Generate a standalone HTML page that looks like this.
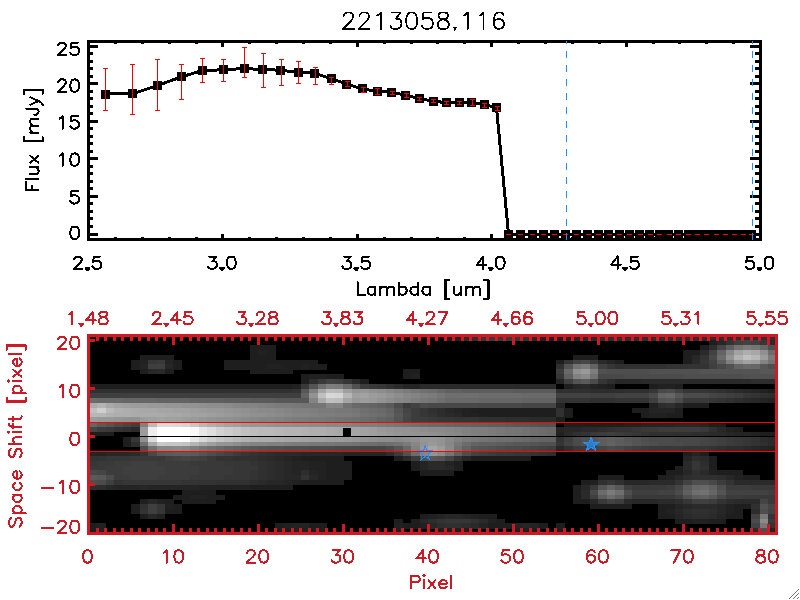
<!DOCTYPE html><html><head><meta charset="utf-8"><title>plot</title>
<style>html,body{margin:0;padding:0;background:#fff;overflow:hidden;font-family:"Liberation Sans",sans-serif}svg{display:block}</style></head><body>
<svg width="800" height="600" viewBox="0 0 800 600" shape-rendering="crispEdges">
<rect width="800" height="600" fill="#fff"/>
<g shape-rendering="crispEdges">
</g>
<polyline fill="none" stroke="#000" stroke-width="3" stroke-linejoin="round" points="105.5,94.0 132.5,93.8 157.5,85.5 181.3,76.8 202.8,70.5 223.3,69.8 244.0,68.5 262.5,69.5 280.0,70.2 298.3,72.2 314.5,73.3 331.7,78.8 346.7,84.0 362.5,89.0 377.5,91.3 391.5,92.3 405.7,95.2 419.5,98.5 433.5,101.2 446.5,102.7 459.5,102.7 471.7,102.3 484.5,104.7 496.5,107.7 508.5,234.0 520.5,234.0 532.0,234.0 543.4,234.0 554.3,234.0 565.3,234.0 576.4,234.0 587.5,234.0 598.2,234.0 608.7,234.0 619.2,234.0 629.4,234.0 639.9,234.0 649.5,234.0 659.1,234.0 668.8,234.0 678.4,234.0 688.0,234.0 697.3,234.0 706.4,234.0 715.7,234.0 724.8,234.0 733.9,234.0 742.6,234.0 751.4,234.0"/>
<g shape-rendering="crispEdges">
<path d="M101 90h9v9h-9zM128 89h9v9h-9zM153 81h9v9h-9zM177 72h9v9h-9zM198 66h9v9h-9zM219 65h9v9h-9zM240 64h9v9h-9zM258 65h9v9h-9zM276 66h9v9h-9zM294 68h9v9h-9zM310 69h9v9h-9zM327 74h9v9h-9zM342 80h9v9h-9zM358 84h9v9h-9zM373 87h9v9h-9zM387 88h9v9h-9zM401 91h9v9h-9zM415 94h9v9h-9zM429 97h9v9h-9zM442 98h9v9h-9zM455 98h9v9h-9zM467 98h9v9h-9zM480 100h9v9h-9zM492 103h9v9h-9zM504 230h9v9h-9zM516 230h9v9h-9zM528 230h9v9h-9zM539 230h9v9h-9zM550 230h9v9h-9zM561 230h9v9h-9zM572 230h9v9h-9zM583 230h9v9h-9zM594 230h9v9h-9zM604 230h9v9h-9zM615 230h9v9h-9zM625 230h9v9h-9zM635 230h9v9h-9zM645 230h9v9h-9zM655 230h9v9h-9zM664 230h9v9h-9zM674 230h9v9h-9zM684 230h9v9h-9zM693 230h9v9h-9zM702 230h9v9h-9zM711 230h9v9h-9zM720 230h9v9h-9zM729 230h9v9h-9zM738 230h9v9h-9zM747 230h9v9h-9z" fill="#000"/>
<rect x="88.5" y="41.5" width="672.0" height="198.0" fill="none" stroke="#000" stroke-width="3"/>
<path d="M88.5 41.5v5.5M88.5 239.5v-5.5M115.4 41.5v2.5M115.4 239.5v-2.5M142.3 41.5v2.5M142.3 239.5v-2.5M169.1 41.5v2.5M169.1 239.5v-2.5M196.0 41.5v2.5M196.0 239.5v-2.5M222.9 41.5v5.5M222.9 239.5v-5.5M249.8 41.5v2.5M249.8 239.5v-2.5M276.7 41.5v2.5M276.7 239.5v-2.5M303.5 41.5v2.5M303.5 239.5v-2.5M330.4 41.5v2.5M330.4 239.5v-2.5M357.3 41.5v5.5M357.3 239.5v-5.5M384.2 41.5v2.5M384.2 239.5v-2.5M411.1 41.5v2.5M411.1 239.5v-2.5M437.9 41.5v2.5M437.9 239.5v-2.5M464.8 41.5v2.5M464.8 239.5v-2.5M491.7 41.5v5.5M491.7 239.5v-5.5M518.6 41.5v2.5M518.6 239.5v-2.5M545.5 41.5v2.5M545.5 239.5v-2.5M572.3 41.5v2.5M572.3 239.5v-2.5M599.2 41.5v2.5M599.2 239.5v-2.5M626.1 41.5v5.5M626.1 239.5v-5.5M653.0 41.5v2.5M653.0 239.5v-2.5M679.9 41.5v2.5M679.9 239.5v-2.5M706.7 41.5v2.5M706.7 239.5v-2.5M733.6 41.5v2.5M733.6 239.5v-2.5M760.5 41.5v5.5M760.5 239.5v-5.5M88.5 234.5h9.5M760.5 234.5h-10.5M88.5 226.5h4.5M760.5 226.5h-5.5M88.5 218.5h4.5M760.5 218.5h-5.5M88.5 211.5h4.5M760.5 211.5h-5.5M88.5 203.5h4.5M760.5 203.5h-5.5M88.5 196.5h9.5M760.5 196.5h-10.5M88.5 188.5h4.5M760.5 188.5h-5.5M88.5 181.5h4.5M760.5 181.5h-5.5M88.5 173.5h4.5M760.5 173.5h-5.5M88.5 166.5h4.5M760.5 166.5h-5.5M88.5 158.5h9.5M760.5 158.5h-10.5M88.5 151.5h4.5M760.5 151.5h-5.5M88.5 143.5h4.5M760.5 143.5h-5.5M88.5 136.5h4.5M760.5 136.5h-5.5M88.5 128.5h4.5M760.5 128.5h-5.5M88.5 121.5h9.5M760.5 121.5h-10.5M88.5 113.5h4.5M760.5 113.5h-5.5M88.5 106.5h4.5M760.5 106.5h-5.5M88.5 98.5h4.5M760.5 98.5h-5.5M88.5 91.5h4.5M760.5 91.5h-5.5M88.5 83.5h9.5M760.5 83.5h-10.5M88.5 76.5h4.5M760.5 76.5h-5.5M88.5 68.5h4.5M760.5 68.5h-5.5M88.5 61.5h4.5M760.5 61.5h-5.5M88.5 53.5h4.5M760.5 53.5h-5.5M88.5 46.5h9.5M760.5 46.5h-10.5" fill="none" stroke="#000" stroke-width="3"/>
<path d="M105.5 68.5V110.5M103.0 68.5h5M103.0 110.5h5M132.5 64.5V114.5M130.0 64.5h5M130.0 114.5h5M157.5 59.5V110.5M155.0 59.5h5M155.0 110.5h5M181.5 64.5V99.5M179.0 64.5h5M179.0 99.5h5M202.5 58.5V82.5M200.0 58.5h5M200.0 82.5h5M223.5 59.5V81.5M221.0 59.5h5M221.0 81.5h5M244.5 47.5V77.5M242.0 47.5h5M242.0 77.5h5M263.5 53.5V87.5M261.0 53.5h5M261.0 87.5h5M281.5 59.5V85.5M279.0 59.5h5M279.0 85.5h5M298.5 61.5V83.5M296.0 61.5h5M296.0 83.5h5M315.5 67.5V84.5M313.0 67.5h5M313.0 84.5h5M331.5 77.5V84.5M329.0 77.5h5M329.0 84.5h5M347.5 81.5V86.5M345.0 81.5h5M345.0 86.5h5M363.5 87.5V92.5M361.0 87.5h5M361.0 92.5h5M377.5 88.5V94.5M375.0 88.5h5M375.0 94.5h5M392.5 91.5V94.5M390.0 91.5h5M390.0 94.5h5M406.5 93.5V97.5M404.0 93.5h5M404.0 97.5h5M419.5 97.5V100.5M417.0 97.5h5M417.0 100.5h5M433.5 99.5V102.5M431.0 99.5h5M431.0 102.5h5M446.5 101.5V104.5M444.0 101.5h5M444.0 104.5h5M459.5 101.5V104.5M457.0 101.5h5M457.0 104.5h5M472.5 99.5V105.5M470.0 99.5h5M470.0 105.5h5M484.5 103.5V107.5M482.0 103.5h5M482.0 107.5h5M497.5 106.5V110.5M495.0 106.5h5M495.0 110.5h5M505.5 234.5h5M517.5 234.5h5M529.5 234.5h5M540.5 234.5h5M551.5 234.5h5M562.5 234.5h5M573.5 234.5h5M585.5 234.5h5M595.5 234.5h5M606.5 234.5h5M616.5 234.5h5M626.5 234.5h5M637.5 234.5h5M647.5 234.5h5M656.5 234.5h5M666.5 234.5h5M675.5 234.5h5M685.5 234.5h5M694.5 234.5h5M703.5 234.5h5M713.5 234.5h5M722.5 234.5h5M731.5 234.5h5M740.5 234.5h5M748.5 234.5h5" fill="none" stroke="#f00" stroke-width="1"/>
<path d="M566.5 41V44M566.5 51V58M566.5 65V72M566.5 79V86M566.5 93V100M566.5 107V114M566.5 121V128M566.5 135V142M566.5 149V156M566.5 163V170M566.5 177V184M566.5 191V198M566.5 205V212M566.5 219V226M566.5 233V240" stroke="#1e90ff" stroke-width="1" fill="none"/>
<path d="M752.5 41V44M752.5 51V58M752.5 65V72M752.5 79V86M752.5 93V100M752.5 107V114M752.5 121V128M752.5 135V142M752.5 149V156M752.5 163V170M752.5 177V184M752.5 191V198M752.5 205V212M752.5 219V226M752.5 233V240" stroke="#1e90ff" stroke-width="1" fill="none"/>
</g>
<path d="M343.71 16.36L343.71 15.57L344.50 13.99L345.29 13.20L346.87 12.41L350.03 12.41L351.61 13.20L352.40 13.99L353.19 15.57L353.19 17.15L352.40 18.73L350.82 21.10L342.92 29.00L353.98 29.00M359.51 16.36L359.51 15.57L360.30 13.99L361.09 13.20L362.67 12.41L365.83 12.41L367.41 13.20L368.20 13.99L368.99 15.57L368.99 17.15L368.20 18.73L366.62 21.10L358.72 29.00L369.78 29.00M376.89 15.57L378.47 14.78L380.84 12.41L380.84 29.00M391.90 12.41L400.59 12.41L395.85 18.73L398.22 18.73L399.80 19.52L400.59 20.31L401.38 22.68L401.38 24.26L400.59 26.63L399.01 28.21L396.64 29.00L394.27 29.00L391.90 28.21L391.11 27.42L390.32 25.84M410.86 12.41L408.49 13.20L406.91 15.57L406.12 19.52L406.12 21.89L406.91 25.84L408.49 28.21L410.86 29.00L412.44 29.00L414.81 28.21L416.39 25.84L417.18 21.89L417.18 19.52L416.39 15.57L414.81 13.20L412.44 12.41ZM431.40 12.41L423.50 12.41L422.71 19.52L423.50 18.73L425.87 17.94L428.24 17.94L430.61 18.73L432.19 20.31L432.98 22.68L432.98 24.26L432.19 26.63L430.61 28.21L428.24 29.00L425.87 29.00L423.50 28.21L422.71 27.42L421.92 25.84M441.67 12.41L439.30 13.20L438.51 14.78L438.51 16.36L439.30 17.94L440.88 18.73L444.04 19.52L446.41 20.31L447.99 21.89L448.78 23.47L448.78 25.84L447.99 27.42L447.20 28.21L444.83 29.00L441.67 29.00L439.30 28.21L438.51 27.42L437.72 25.84L437.72 23.47L438.51 21.89L440.09 20.31L442.46 19.52L445.62 18.73L447.20 17.94L447.99 16.36L447.99 14.78L447.20 13.20L444.83 12.41ZM454.31 27.74L455.89 27.74L455.10 28.84ZM455.10 28.84L454.47 29.95M463.79 15.57L465.37 14.78L467.74 12.41L467.74 29.00M479.59 15.57L481.17 14.78L483.54 12.41L483.54 29.00M503.29 14.78L502.50 13.20L500.13 12.41L498.55 12.41L496.18 13.20L494.60 15.57L493.81 19.52L493.81 23.47L494.60 26.63L496.18 28.21L498.55 29.00L499.34 29.00L501.71 28.21L503.29 26.63L504.08 24.26L504.08 23.47L503.29 21.10L501.71 19.52L499.34 18.73L498.55 18.73L496.18 19.52L494.60 21.10L493.81 23.47" fill="none" stroke="#000" stroke-width="1.7" stroke-linecap="round" stroke-linejoin="round"/>
<path d="M74.27 259.46L74.27 258.87L74.90 257.69L75.53 257.10L76.79 256.51L79.31 256.51L80.57 257.10L81.20 257.69L81.83 258.87L81.83 260.05L81.20 261.23L79.94 263.00L73.64 268.90L82.46 268.90M85.61 268.19L89.39 268.19L87.50 270.43ZM86.87 268.72L88.13 268.72M100.10 256.51L93.80 256.51L93.17 261.82L93.80 261.23L95.69 260.64L97.58 260.64L99.47 261.23L100.73 262.41L101.36 264.18L101.36 265.36L100.73 267.13L99.47 268.31L97.58 268.90L95.69 268.90L93.80 268.31L93.17 267.72L92.54 266.54M209.30 256.51L216.23 256.51L212.45 261.23L214.34 261.23L215.60 261.82L216.23 262.41L216.86 264.18L216.86 265.36L216.23 267.13L214.97 268.31L213.08 268.90L211.19 268.90L209.30 268.31L208.67 267.72L208.04 266.54M220.01 268.19L223.79 268.19L221.90 270.43ZM221.27 268.72L222.53 268.72M230.72 256.51L228.83 257.10L227.57 258.87L226.94 261.82L226.94 263.59L227.57 266.54L228.83 268.31L230.72 268.90L231.98 268.90L233.87 268.31L235.13 266.54L235.76 263.59L235.76 261.82L235.13 258.87L233.87 257.10L231.98 256.51ZM343.70 256.51L350.63 256.51L346.85 261.23L348.74 261.23L350.00 261.82L350.63 262.41L351.26 264.18L351.26 265.36L350.63 267.13L349.37 268.31L347.48 268.90L345.59 268.90L343.70 268.31L343.07 267.72L342.44 266.54M354.41 268.19L358.19 268.19L356.30 270.43ZM355.67 268.72L356.93 268.72M368.90 256.51L362.60 256.51L361.97 261.82L362.60 261.23L364.49 260.64L366.38 260.64L368.27 261.23L369.53 262.41L370.16 264.18L370.16 265.36L369.53 267.13L368.27 268.31L366.38 268.90L364.49 268.90L362.60 268.31L361.97 267.72L361.34 266.54M483.14 256.51L476.84 264.77L486.29 264.77M483.14 256.51L483.14 268.90M488.81 268.19L492.59 268.19L490.70 270.43ZM490.07 268.72L491.33 268.72M499.52 256.51L497.63 257.10L496.37 258.87L495.74 261.82L495.74 263.59L496.37 266.54L497.63 268.31L499.52 268.90L500.78 268.90L502.67 268.31L503.93 266.54L504.56 263.59L504.56 261.82L503.93 258.87L502.67 257.10L500.78 256.51ZM617.54 256.51L611.24 264.77L620.69 264.77M617.54 256.51L617.54 268.90M623.21 268.19L626.99 268.19L625.10 270.43ZM624.47 268.72L625.73 268.72M637.70 256.51L631.40 256.51L630.77 261.82L631.40 261.23L633.29 260.64L635.18 260.64L637.07 261.23L638.33 262.41L638.96 264.18L638.96 265.36L638.33 267.13L637.07 268.31L635.18 268.90L633.29 268.90L631.40 268.31L630.77 267.72L630.14 266.54M753.20 256.51L746.90 256.51L746.27 261.82L746.90 261.23L748.79 260.64L750.68 260.64L752.57 261.23L753.83 262.41L754.46 264.18L754.46 265.36L753.83 267.13L752.57 268.31L750.68 268.90L748.79 268.90L746.90 268.31L746.27 267.72L745.64 266.54M757.61 268.19L761.39 268.19L759.50 270.43ZM758.87 268.72L760.13 268.72M768.32 256.51L766.43 257.10L765.17 258.87L764.54 261.82L764.54 263.59L765.17 266.54L766.43 268.31L768.32 268.90L769.58 268.90L771.47 268.31L772.73 266.54L773.36 263.59L773.36 261.82L772.73 258.87L771.47 257.10L769.58 256.51ZM58.32 45.56L58.32 44.97L58.95 43.79L59.58 43.20L60.84 42.61L63.36 42.61L64.62 43.20L65.25 43.79L65.88 44.97L65.88 46.15L65.25 47.33L63.99 49.10L57.69 55.00L66.51 55.00M77.85 42.61L71.55 42.61L70.92 47.92L71.55 47.33L73.44 46.74L75.33 46.74L77.22 47.33L78.48 48.51L79.11 50.28L79.11 51.46L78.48 53.23L77.22 54.41L75.33 55.00L73.44 55.00L71.55 54.41L70.92 53.82L70.29 52.64M58.32 82.36L58.32 81.77L58.95 80.59L59.58 80.00L60.84 79.41L63.36 79.41L64.62 80.00L65.25 80.59L65.88 81.77L65.88 82.95L65.25 84.13L63.99 85.90L57.69 91.80L66.51 91.80M74.07 79.41L72.18 80.00L70.92 81.77L70.29 84.72L70.29 86.49L70.92 89.44L72.18 91.21L74.07 91.80L75.33 91.80L77.22 91.21L78.48 89.44L79.11 86.49L79.11 84.72L78.48 81.77L77.22 80.00L75.33 79.41ZM59.58 118.57L60.84 117.98L62.73 116.21L62.73 128.60M77.85 116.21L71.55 116.21L70.92 121.52L71.55 120.93L73.44 120.34L75.33 120.34L77.22 120.93L78.48 122.11L79.11 123.88L79.11 125.06L78.48 126.83L77.22 128.01L75.33 128.60L73.44 128.60L71.55 128.01L70.92 127.42L70.29 126.24M59.58 155.77L60.84 155.18L62.73 153.41L62.73 165.80M74.07 153.41L72.18 154.00L70.92 155.77L70.29 158.72L70.29 160.49L70.92 163.44L72.18 165.21L74.07 165.80L75.33 165.80L77.22 165.21L78.48 163.44L79.11 160.49L79.11 158.72L78.48 155.77L77.22 154.00L75.33 153.41ZM77.85 191.11L71.55 191.11L70.92 196.42L71.55 195.83L73.44 195.24L75.33 195.24L77.22 195.83L78.48 197.01L79.11 198.78L79.11 199.96L78.48 201.73L77.22 202.91L75.33 203.50L73.44 203.50L71.55 202.91L70.92 202.32L70.29 201.14M74.07 226.61L72.18 227.20L70.92 228.97L70.29 231.92L70.29 233.69L70.92 236.64L72.18 238.41L74.07 239.00L75.33 239.00L77.22 238.41L78.48 236.64L79.11 233.69L79.11 231.92L78.48 228.97L77.22 227.20L75.33 226.61ZM357.52 282.41L357.52 294.80M357.52 294.80L365.08 294.80M375.16 286.54L375.16 294.80M375.16 288.31L373.90 287.13L372.64 286.54L370.75 286.54L369.49 287.13L368.23 288.31L367.60 290.08L367.60 291.26L368.23 293.03L369.49 294.21L370.75 294.80L372.64 294.80L373.90 294.21L375.16 293.03M380.20 286.54L380.20 294.80M380.20 288.90L382.09 287.13L383.35 286.54L385.24 286.54L386.50 287.13L387.13 288.90L387.13 294.80M387.13 288.90L389.02 287.13L390.28 286.54L392.17 286.54L393.43 287.13L394.06 288.90L394.06 294.80M399.10 282.41L399.10 294.80M399.10 288.31L400.36 287.13L401.62 286.54L403.51 286.54L404.77 287.13L406.03 288.31L406.66 290.08L406.66 291.26L406.03 293.03L404.77 294.21L403.51 294.80L401.62 294.80L400.36 294.21L399.10 293.03M418.00 282.41L418.00 294.80M418.00 288.31L416.74 287.13L415.48 286.54L413.59 286.54L412.33 287.13L411.07 288.31L410.44 290.08L410.44 291.26L411.07 293.03L412.33 294.21L413.59 294.80L415.48 294.80L416.74 294.21L418.00 293.03M429.97 286.54L429.97 294.80M429.97 288.31L428.71 287.13L427.45 286.54L425.56 286.54L424.30 287.13L423.04 288.31L422.41 290.08L422.41 291.26L423.04 293.03L424.30 294.21L425.56 294.80L427.45 294.80L428.71 294.21L429.97 293.03M445.09 280.05L445.09 298.93M445.72 280.05L445.72 298.93M445.09 280.05L449.50 280.05M445.09 298.93L449.50 298.93M453.91 286.54L453.91 292.44L454.54 294.21L455.80 294.80L457.69 294.80L458.95 294.21L460.84 292.44M460.84 286.54L460.84 294.80M465.88 286.54L465.88 294.80M465.88 288.90L467.77 287.13L469.03 286.54L470.92 286.54L472.18 287.13L472.81 288.90L472.81 294.80M472.81 288.90L474.70 287.13L475.96 286.54L477.85 286.54L479.11 287.13L479.74 288.90L479.74 294.80M487.93 280.05L487.93 298.93M488.56 280.05L488.56 298.93M484.15 280.05L488.56 280.05M484.15 298.93L488.56 298.93M26.11 190.48L38.50 190.48M26.11 190.48L26.11 182.29M32.01 190.48L32.01 185.44M26.11 179.14L38.50 179.14M30.24 174.10L36.14 174.10L37.91 173.47L38.50 172.21L38.50 170.32L37.91 169.06L36.14 167.17M30.24 167.17L38.50 167.17M30.24 162.76L38.50 155.83M30.24 155.83L38.50 162.76M23.75 141.34L42.63 141.34M23.75 140.71L42.63 140.71M23.75 141.34L23.75 136.93M42.63 141.34L42.63 136.93M30.24 132.52L38.50 132.52M32.60 132.52L30.83 130.63L30.24 129.37L30.24 127.48L30.83 126.22L32.60 125.59L38.50 125.59M32.60 125.59L30.83 123.70L30.24 122.44L30.24 120.55L30.83 119.29L32.60 118.66L38.50 118.66M26.11 108.58L35.55 108.58L37.32 109.21L37.91 109.84L38.50 111.10L38.50 112.36L37.91 113.62L37.32 114.25L35.55 114.88L34.37 114.88M30.24 104.80L38.50 101.02M30.24 97.24L38.50 101.02L40.86 102.28L42.04 103.54L42.63 104.80L42.63 105.43M23.75 90.31L42.63 90.31M23.75 89.68L42.63 89.68M23.75 94.09L23.75 89.68M42.63 94.09L42.63 89.68" fill="none" stroke="#000" stroke-width="2" stroke-linecap="round" stroke-linejoin="round"/>
<g shape-rendering="crispEdges">
<rect x="88.5" y="335.5" width="688.0" height="197.5" fill="#000"/>
<rect x="445.2" y="335.5" width="8.8" height="5.1" fill="#1e1e1e"/>
<rect x="453.7" y="335.5" width="8.8" height="5.1" fill="#212121"/>
<rect x="462.2" y="335.5" width="8.8" height="5.1" fill="#2a2a2a"/>
<rect x="470.7" y="335.5" width="8.8" height="5.1" fill="#303030"/>
<rect x="479.2" y="335.5" width="8.8" height="5.1" fill="#363636"/>
<rect x="487.7" y="335.5" width="25.8" height="5.1" fill="#393939"/>
<rect x="513.2" y="335.5" width="8.8" height="5.1" fill="#363636"/>
<rect x="521.7" y="335.5" width="8.8" height="5.1" fill="#303030"/>
<rect x="530.2" y="335.5" width="8.8" height="5.1" fill="#272727"/>
<rect x="538.7" y="335.5" width="8.8" height="5.1" fill="#212121"/>
<rect x="547.2" y="335.5" width="17.3" height="5.1" fill="#1e1e1e"/>
<rect x="564.2" y="335.5" width="8.8" height="5.1" fill="#212121"/>
<rect x="572.6" y="335.5" width="8.8" height="5.1" fill="#242424"/>
<rect x="581.1" y="335.5" width="8.8" height="5.1" fill="#272727"/>
<rect x="589.6" y="335.5" width="8.8" height="5.1" fill="#2a2a2a"/>
<rect x="598.1" y="335.5" width="161.7" height="5.1" fill="#2d2d2d"/>
<rect x="759.5" y="335.5" width="17.3" height="5.1" fill="#303030"/>
<rect x="708.5" y="340.3" width="8.8" height="5.1" fill="#1e1e1e"/>
<rect x="717.0" y="340.3" width="8.8" height="5.1" fill="#272727"/>
<rect x="725.5" y="340.3" width="8.8" height="5.1" fill="#333333"/>
<rect x="734.0" y="340.3" width="8.8" height="5.1" fill="#3f3f3f"/>
<rect x="742.5" y="340.3" width="8.8" height="5.1" fill="#424242"/>
<rect x="751.0" y="340.3" width="8.8" height="5.1" fill="#3f3f3f"/>
<rect x="759.5" y="340.3" width="8.8" height="5.1" fill="#363636"/>
<rect x="768.0" y="340.3" width="8.8" height="5.1" fill="#2a2a2a"/>
<rect x="249.9" y="345.1" width="25.8" height="5.1" fill="#1e1e1e"/>
<rect x="700.1" y="345.1" width="8.8" height="5.1" fill="#1e1e1e"/>
<rect x="708.5" y="345.1" width="8.8" height="5.1" fill="#2d2d2d"/>
<rect x="717.0" y="345.1" width="8.8" height="5.1" fill="#454545"/>
<rect x="725.5" y="345.1" width="8.8" height="5.1" fill="#5d5d5d"/>
<rect x="734.0" y="345.1" width="8.8" height="5.1" fill="#727272"/>
<rect x="742.5" y="345.1" width="8.8" height="5.1" fill="#7b7b7b"/>
<rect x="751.0" y="345.1" width="8.8" height="5.1" fill="#757575"/>
<rect x="759.5" y="345.1" width="8.8" height="5.1" fill="#666666"/>
<rect x="768.0" y="345.1" width="8.8" height="5.1" fill="#4e4e4e"/>
<rect x="249.9" y="350.0" width="8.8" height="5.1" fill="#1e1e1e"/>
<rect x="258.4" y="350.0" width="8.8" height="5.1" fill="#212121"/>
<rect x="266.9" y="350.0" width="8.8" height="5.1" fill="#1e1e1e"/>
<rect x="683.1" y="350.0" width="17.3" height="5.1" fill="#1e1e1e"/>
<rect x="700.1" y="350.0" width="8.8" height="5.1" fill="#2a2a2a"/>
<rect x="708.5" y="350.0" width="8.8" height="5.1" fill="#424242"/>
<rect x="717.0" y="350.0" width="8.8" height="5.1" fill="#636363"/>
<rect x="725.5" y="350.0" width="8.8" height="5.1" fill="#878787"/>
<rect x="734.0" y="350.0" width="8.8" height="5.1" fill="#a2a2a2"/>
<rect x="742.5" y="350.0" width="8.8" height="5.1" fill="#aeaeae"/>
<rect x="751.0" y="350.0" width="8.8" height="5.1" fill="#a8a8a8"/>
<rect x="759.5" y="350.0" width="8.8" height="5.1" fill="#909090"/>
<rect x="768.0" y="350.0" width="8.8" height="5.1" fill="#6c6c6c"/>
<rect x="139.5" y="354.8" width="34.3" height="5.1" fill="#1e1e1e"/>
<rect x="249.9" y="354.8" width="25.8" height="5.1" fill="#1e1e1e"/>
<rect x="572.6" y="354.8" width="25.8" height="5.1" fill="#1e1e1e"/>
<rect x="683.1" y="354.8" width="8.8" height="5.1" fill="#1e1e1e"/>
<rect x="691.6" y="354.8" width="8.8" height="5.1" fill="#272727"/>
<rect x="700.1" y="354.8" width="8.8" height="5.1" fill="#333333"/>
<rect x="708.5" y="354.8" width="8.8" height="5.1" fill="#484848"/>
<rect x="717.0" y="354.8" width="8.8" height="5.1" fill="#6c6c6c"/>
<rect x="725.5" y="354.8" width="8.8" height="5.1" fill="#939393"/>
<rect x="734.0" y="354.8" width="8.8" height="5.1" fill="#b1b1b1"/>
<rect x="742.5" y="354.8" width="8.8" height="5.1" fill="#c0c0c0"/>
<rect x="751.0" y="354.8" width="8.8" height="5.1" fill="#b7b7b7"/>
<rect x="759.5" y="354.8" width="8.8" height="5.1" fill="#9c9c9c"/>
<rect x="768.0" y="354.8" width="8.8" height="5.1" fill="#7b7b7b"/>
<rect x="131.0" y="359.6" width="8.8" height="5.1" fill="#1e1e1e"/>
<rect x="139.5" y="359.6" width="8.8" height="5.1" fill="#212121"/>
<rect x="148.0" y="359.6" width="8.8" height="5.1" fill="#363636"/>
<rect x="156.5" y="359.6" width="8.8" height="5.1" fill="#393939"/>
<rect x="164.9" y="359.6" width="8.8" height="5.1" fill="#242424"/>
<rect x="173.4" y="359.6" width="8.8" height="5.1" fill="#1e1e1e"/>
<rect x="224.4" y="359.6" width="93.7" height="5.1" fill="#1e1e1e"/>
<rect x="555.7" y="359.6" width="8.8" height="5.1" fill="#1e1e1e"/>
<rect x="564.2" y="359.6" width="8.8" height="5.1" fill="#333333"/>
<rect x="572.6" y="359.6" width="8.8" height="5.1" fill="#424242"/>
<rect x="581.1" y="359.6" width="8.8" height="5.1" fill="#484848"/>
<rect x="589.6" y="359.6" width="8.8" height="5.1" fill="#393939"/>
<rect x="598.1" y="359.6" width="8.8" height="5.1" fill="#2a2a2a"/>
<rect x="606.6" y="359.6" width="8.8" height="5.1" fill="#242424"/>
<rect x="615.1" y="359.6" width="8.8" height="5.1" fill="#1e1e1e"/>
<rect x="683.1" y="359.6" width="8.8" height="5.1" fill="#1e1e1e"/>
<rect x="691.6" y="359.6" width="8.8" height="5.1" fill="#2a2a2a"/>
<rect x="700.1" y="359.6" width="8.8" height="5.1" fill="#363636"/>
<rect x="708.5" y="359.6" width="8.8" height="5.1" fill="#424242"/>
<rect x="717.0" y="359.6" width="8.8" height="5.1" fill="#5d5d5d"/>
<rect x="725.5" y="359.6" width="8.8" height="5.1" fill="#7e7e7e"/>
<rect x="734.0" y="359.6" width="8.8" height="5.1" fill="#969696"/>
<rect x="742.5" y="359.6" width="8.8" height="5.1" fill="#a2a2a2"/>
<rect x="751.0" y="359.6" width="8.8" height="5.1" fill="#9c9c9c"/>
<rect x="759.5" y="359.6" width="8.8" height="5.1" fill="#848484"/>
<rect x="768.0" y="359.6" width="8.8" height="5.1" fill="#727272"/>
<rect x="131.0" y="364.4" width="8.8" height="5.1" fill="#1e1e1e"/>
<rect x="139.5" y="364.4" width="8.8" height="5.1" fill="#242424"/>
<rect x="148.0" y="364.4" width="17.3" height="5.1" fill="#3f3f3f"/>
<rect x="164.9" y="364.4" width="8.8" height="5.1" fill="#272727"/>
<rect x="173.4" y="364.4" width="8.8" height="5.1" fill="#1e1e1e"/>
<rect x="224.4" y="364.4" width="42.8" height="5.1" fill="#1e1e1e"/>
<rect x="266.9" y="364.4" width="17.3" height="5.1" fill="#212121"/>
<rect x="283.9" y="364.4" width="17.3" height="5.1" fill="#1e1e1e"/>
<rect x="300.8" y="364.4" width="8.8" height="5.1" fill="#212121"/>
<rect x="309.3" y="364.4" width="17.3" height="5.1" fill="#1e1e1e"/>
<rect x="555.7" y="364.4" width="8.8" height="5.1" fill="#303030"/>
<rect x="564.2" y="364.4" width="8.8" height="5.1" fill="#545454"/>
<rect x="572.6" y="364.4" width="8.8" height="5.1" fill="#727272"/>
<rect x="581.1" y="364.4" width="8.8" height="5.1" fill="#7b7b7b"/>
<rect x="589.6" y="364.4" width="8.8" height="5.1" fill="#636363"/>
<rect x="598.1" y="364.4" width="8.8" height="5.1" fill="#3f3f3f"/>
<rect x="606.6" y="364.4" width="8.8" height="5.1" fill="#363636"/>
<rect x="615.1" y="364.4" width="51.3" height="5.1" fill="#303030"/>
<rect x="666.1" y="364.4" width="42.8" height="5.1" fill="#333333"/>
<rect x="708.5" y="364.4" width="8.8" height="5.1" fill="#3f3f3f"/>
<rect x="717.0" y="364.4" width="8.8" height="5.1" fill="#484848"/>
<rect x="725.5" y="364.4" width="8.8" height="5.1" fill="#515151"/>
<rect x="734.0" y="364.4" width="8.8" height="5.1" fill="#636363"/>
<rect x="742.5" y="364.4" width="8.8" height="5.1" fill="#696969"/>
<rect x="751.0" y="364.4" width="8.8" height="5.1" fill="#666666"/>
<rect x="759.5" y="364.4" width="8.8" height="5.1" fill="#575757"/>
<rect x="768.0" y="364.4" width="8.8" height="5.1" fill="#4e4e4e"/>
<rect x="139.5" y="369.2" width="8.8" height="5.1" fill="#1e1e1e"/>
<rect x="148.0" y="369.2" width="8.8" height="5.1" fill="#272727"/>
<rect x="156.5" y="369.2" width="8.8" height="5.1" fill="#2a2a2a"/>
<rect x="164.9" y="369.2" width="8.8" height="5.1" fill="#1e1e1e"/>
<rect x="249.9" y="369.2" width="42.8" height="5.1" fill="#1e1e1e"/>
<rect x="402.8" y="369.2" width="17.3" height="5.1" fill="#1e1e1e"/>
<rect x="555.7" y="369.2" width="8.8" height="5.1" fill="#3c3c3c"/>
<rect x="564.2" y="369.2" width="8.8" height="5.1" fill="#696969"/>
<rect x="572.6" y="369.2" width="8.8" height="5.1" fill="#909090"/>
<rect x="581.1" y="369.2" width="8.8" height="5.1" fill="#999999"/>
<rect x="589.6" y="369.2" width="8.8" height="5.1" fill="#7e7e7e"/>
<rect x="598.1" y="369.2" width="8.8" height="5.1" fill="#515151"/>
<rect x="606.6" y="369.2" width="42.8" height="5.1" fill="#4e4e4e"/>
<rect x="649.1" y="369.2" width="51.3" height="5.1" fill="#515151"/>
<rect x="700.1" y="369.2" width="59.8" height="5.1" fill="#545454"/>
<rect x="759.5" y="369.2" width="17.3" height="5.1" fill="#575757"/>
<rect x="300.8" y="374.0" width="8.8" height="5.1" fill="#1e1e1e"/>
<rect x="309.3" y="374.0" width="17.3" height="5.1" fill="#212121"/>
<rect x="326.3" y="374.0" width="17.3" height="5.1" fill="#1e1e1e"/>
<rect x="402.8" y="374.0" width="8.8" height="5.1" fill="#1e1e1e"/>
<rect x="411.3" y="374.0" width="8.8" height="5.1" fill="#212121"/>
<rect x="555.7" y="374.0" width="8.8" height="5.1" fill="#363636"/>
<rect x="564.2" y="374.0" width="8.8" height="5.1" fill="#606060"/>
<rect x="572.6" y="374.0" width="8.8" height="5.1" fill="#818181"/>
<rect x="581.1" y="374.0" width="8.8" height="5.1" fill="#8a8a8a"/>
<rect x="589.6" y="374.0" width="8.8" height="5.1" fill="#727272"/>
<rect x="598.1" y="374.0" width="25.8" height="5.1" fill="#484848"/>
<rect x="623.6" y="374.0" width="59.8" height="5.1" fill="#4b4b4b"/>
<rect x="683.1" y="374.0" width="59.8" height="5.1" fill="#4e4e4e"/>
<rect x="742.5" y="374.0" width="34.3" height="5.1" fill="#515151"/>
<rect x="300.8" y="378.9" width="8.8" height="5.1" fill="#1e1e1e"/>
<rect x="309.3" y="378.9" width="8.8" height="5.1" fill="#2d2d2d"/>
<rect x="317.8" y="378.9" width="8.8" height="5.1" fill="#393939"/>
<rect x="326.3" y="378.9" width="8.8" height="5.1" fill="#424242"/>
<rect x="334.8" y="378.9" width="8.8" height="5.1" fill="#3f3f3f"/>
<rect x="343.3" y="378.9" width="8.8" height="5.1" fill="#363636"/>
<rect x="351.8" y="378.9" width="8.8" height="5.1" fill="#2a2a2a"/>
<rect x="360.3" y="378.9" width="8.8" height="5.1" fill="#1e1e1e"/>
<rect x="555.7" y="378.9" width="8.8" height="5.1" fill="#242424"/>
<rect x="564.2" y="378.9" width="8.8" height="5.1" fill="#3f3f3f"/>
<rect x="572.6" y="378.9" width="8.8" height="5.1" fill="#545454"/>
<rect x="581.1" y="378.9" width="8.8" height="5.1" fill="#5a5a5a"/>
<rect x="589.6" y="378.9" width="8.8" height="5.1" fill="#4b4b4b"/>
<rect x="598.1" y="378.9" width="8.8" height="5.1" fill="#363636"/>
<rect x="606.6" y="378.9" width="8.8" height="5.1" fill="#2d2d2d"/>
<rect x="615.1" y="378.9" width="25.8" height="5.1" fill="#272727"/>
<rect x="640.6" y="378.9" width="110.7" height="5.1" fill="#2a2a2a"/>
<rect x="751.0" y="378.9" width="25.8" height="5.1" fill="#2d2d2d"/>
<rect x="88.5" y="383.7" width="204.2" height="5.1" fill="#1e1e1e"/>
<rect x="292.4" y="383.7" width="8.8" height="5.1" fill="#212121"/>
<rect x="300.8" y="383.7" width="8.8" height="5.1" fill="#393939"/>
<rect x="309.3" y="383.7" width="8.8" height="5.1" fill="#545454"/>
<rect x="317.8" y="383.7" width="8.8" height="5.1" fill="#6f6f6f"/>
<rect x="326.3" y="383.7" width="8.8" height="5.1" fill="#7e7e7e"/>
<rect x="334.8" y="383.7" width="8.8" height="5.1" fill="#7b7b7b"/>
<rect x="343.3" y="383.7" width="8.8" height="5.1" fill="#696969"/>
<rect x="351.8" y="383.7" width="8.8" height="5.1" fill="#515151"/>
<rect x="360.3" y="383.7" width="8.8" height="5.1" fill="#3c3c3c"/>
<rect x="368.8" y="383.7" width="8.8" height="5.1" fill="#393939"/>
<rect x="377.3" y="383.7" width="8.8" height="5.1" fill="#363636"/>
<rect x="385.8" y="383.7" width="8.8" height="5.1" fill="#303030"/>
<rect x="394.3" y="383.7" width="8.8" height="5.1" fill="#2a2a2a"/>
<rect x="402.8" y="383.7" width="17.3" height="5.1" fill="#242424"/>
<rect x="419.8" y="383.7" width="136.2" height="5.1" fill="#2a2a2a"/>
<rect x="564.2" y="383.7" width="8.8" height="5.1" fill="#1e1e1e"/>
<rect x="572.6" y="383.7" width="8.8" height="5.1" fill="#272727"/>
<rect x="581.1" y="383.7" width="8.8" height="5.1" fill="#2a2a2a"/>
<rect x="589.6" y="383.7" width="8.8" height="5.1" fill="#242424"/>
<rect x="598.1" y="383.7" width="8.8" height="5.1" fill="#212121"/>
<rect x="606.6" y="383.7" width="8.8" height="5.1" fill="#1e1e1e"/>
<rect x="649.1" y="383.7" width="8.8" height="5.1" fill="#1e1e1e"/>
<rect x="657.6" y="383.7" width="17.3" height="5.1" fill="#212121"/>
<rect x="674.6" y="383.7" width="8.8" height="5.1" fill="#1e1e1e"/>
<rect x="88.5" y="388.5" width="204.2" height="5.1" fill="#303030"/>
<rect x="292.4" y="388.5" width="8.8" height="5.1" fill="#333333"/>
<rect x="300.8" y="388.5" width="8.8" height="5.1" fill="#575757"/>
<rect x="309.3" y="388.5" width="8.8" height="5.1" fill="#7e7e7e"/>
<rect x="317.8" y="388.5" width="8.8" height="5.1" fill="#a5a5a5"/>
<rect x="326.3" y="388.5" width="8.8" height="5.1" fill="#bababa"/>
<rect x="334.8" y="388.5" width="8.8" height="5.1" fill="#b7b7b7"/>
<rect x="343.3" y="388.5" width="8.8" height="5.1" fill="#9f9f9f"/>
<rect x="351.8" y="388.5" width="8.8" height="5.1" fill="#939393"/>
<rect x="360.3" y="388.5" width="8.8" height="5.1" fill="#969696"/>
<rect x="368.8" y="388.5" width="8.8" height="5.1" fill="#909090"/>
<rect x="377.3" y="388.5" width="8.8" height="5.1" fill="#8d8d8d"/>
<rect x="385.8" y="388.5" width="8.8" height="5.1" fill="#878787"/>
<rect x="394.3" y="388.5" width="8.8" height="5.1" fill="#818181"/>
<rect x="402.8" y="388.5" width="8.8" height="5.1" fill="#7b7b7b"/>
<rect x="411.3" y="388.5" width="8.8" height="5.1" fill="#757575"/>
<rect x="419.8" y="388.5" width="8.8" height="5.1" fill="#6f6f6f"/>
<rect x="428.3" y="388.5" width="8.8" height="5.1" fill="#6c6c6c"/>
<rect x="436.7" y="388.5" width="8.8" height="5.1" fill="#666666"/>
<rect x="445.2" y="388.5" width="17.3" height="5.1" fill="#606060"/>
<rect x="462.2" y="388.5" width="51.3" height="5.1" fill="#5d5d5d"/>
<rect x="513.2" y="388.5" width="42.8" height="5.1" fill="#5a5a5a"/>
<rect x="555.7" y="388.5" width="34.3" height="5.1" fill="#303030"/>
<rect x="589.6" y="388.5" width="34.3" height="5.1" fill="#2d2d2d"/>
<rect x="623.6" y="388.5" width="25.8" height="5.1" fill="#303030"/>
<rect x="649.1" y="388.5" width="8.8" height="5.1" fill="#363636"/>
<rect x="657.6" y="388.5" width="8.8" height="5.1" fill="#484848"/>
<rect x="666.1" y="388.5" width="8.8" height="5.1" fill="#4b4b4b"/>
<rect x="674.6" y="388.5" width="8.8" height="5.1" fill="#3f3f3f"/>
<rect x="683.1" y="388.5" width="25.8" height="5.1" fill="#363636"/>
<rect x="708.5" y="388.5" width="8.8" height="5.1" fill="#333333"/>
<rect x="717.0" y="388.5" width="8.8" height="5.1" fill="#303030"/>
<rect x="725.5" y="388.5" width="8.8" height="5.1" fill="#2d2d2d"/>
<rect x="734.0" y="388.5" width="8.8" height="5.1" fill="#2a2a2a"/>
<rect x="742.5" y="388.5" width="8.8" height="5.1" fill="#272727"/>
<rect x="751.0" y="388.5" width="8.8" height="5.1" fill="#242424"/>
<rect x="759.5" y="388.5" width="8.8" height="5.1" fill="#212121"/>
<rect x="768.0" y="388.5" width="8.8" height="5.1" fill="#1e1e1e"/>
<rect x="88.5" y="393.3" width="212.6" height="5.1" fill="#3f3f3f"/>
<rect x="300.8" y="393.3" width="8.8" height="5.1" fill="#636363"/>
<rect x="309.3" y="393.3" width="8.8" height="5.1" fill="#939393"/>
<rect x="317.8" y="393.3" width="8.8" height="5.1" fill="#c0c0c0"/>
<rect x="326.3" y="393.3" width="8.8" height="5.1" fill="#d8d8d8"/>
<rect x="334.8" y="393.3" width="8.8" height="5.1" fill="#d5d5d5"/>
<rect x="343.3" y="393.3" width="8.8" height="5.1" fill="#b7b7b7"/>
<rect x="351.8" y="393.3" width="8.8" height="5.1" fill="#9f9f9f"/>
<rect x="360.3" y="393.3" width="8.8" height="5.1" fill="#a2a2a2"/>
<rect x="368.8" y="393.3" width="8.8" height="5.1" fill="#9c9c9c"/>
<rect x="377.3" y="393.3" width="8.8" height="5.1" fill="#999999"/>
<rect x="385.8" y="393.3" width="8.8" height="5.1" fill="#939393"/>
<rect x="394.3" y="393.3" width="8.8" height="5.1" fill="#8d8d8d"/>
<rect x="402.8" y="393.3" width="8.8" height="5.1" fill="#878787"/>
<rect x="411.3" y="393.3" width="8.8" height="5.1" fill="#848484"/>
<rect x="419.8" y="393.3" width="8.8" height="5.1" fill="#7e7e7e"/>
<rect x="428.3" y="393.3" width="8.8" height="5.1" fill="#7b7b7b"/>
<rect x="436.7" y="393.3" width="8.8" height="5.1" fill="#757575"/>
<rect x="445.2" y="393.3" width="34.3" height="5.1" fill="#6f6f6f"/>
<rect x="479.2" y="393.3" width="42.8" height="5.1" fill="#6c6c6c"/>
<rect x="521.7" y="393.3" width="34.3" height="5.1" fill="#696969"/>
<rect x="555.7" y="393.3" width="34.3" height="5.1" fill="#424242"/>
<rect x="589.6" y="393.3" width="25.8" height="5.1" fill="#3f3f3f"/>
<rect x="615.1" y="393.3" width="34.3" height="5.1" fill="#424242"/>
<rect x="649.1" y="393.3" width="8.8" height="5.1" fill="#4b4b4b"/>
<rect x="657.6" y="393.3" width="8.8" height="5.1" fill="#636363"/>
<rect x="666.1" y="393.3" width="8.8" height="5.1" fill="#666666"/>
<rect x="674.6" y="393.3" width="8.8" height="5.1" fill="#575757"/>
<rect x="683.1" y="393.3" width="25.8" height="5.1" fill="#4b4b4b"/>
<rect x="708.5" y="393.3" width="8.8" height="5.1" fill="#454545"/>
<rect x="717.0" y="393.3" width="8.8" height="5.1" fill="#424242"/>
<rect x="725.5" y="393.3" width="8.8" height="5.1" fill="#3f3f3f"/>
<rect x="734.0" y="393.3" width="8.8" height="5.1" fill="#3c3c3c"/>
<rect x="742.5" y="393.3" width="8.8" height="5.1" fill="#363636"/>
<rect x="751.0" y="393.3" width="8.8" height="5.1" fill="#333333"/>
<rect x="759.5" y="393.3" width="8.8" height="5.1" fill="#303030"/>
<rect x="768.0" y="393.3" width="8.8" height="5.1" fill="#2d2d2d"/>
<rect x="88.5" y="398.1" width="8.8" height="5.1" fill="#6c6c6c"/>
<rect x="97.0" y="398.1" width="25.8" height="5.1" fill="#696969"/>
<rect x="122.5" y="398.1" width="34.3" height="5.1" fill="#666666"/>
<rect x="156.5" y="398.1" width="34.3" height="5.1" fill="#636363"/>
<rect x="190.4" y="398.1" width="34.3" height="5.1" fill="#606060"/>
<rect x="224.4" y="398.1" width="25.8" height="5.1" fill="#5d5d5d"/>
<rect x="249.9" y="398.1" width="25.8" height="5.1" fill="#5a5a5a"/>
<rect x="275.4" y="398.1" width="34.3" height="5.1" fill="#575757"/>
<rect x="309.3" y="398.1" width="8.8" height="5.1" fill="#848484"/>
<rect x="317.8" y="398.1" width="8.8" height="5.1" fill="#ababab"/>
<rect x="326.3" y="398.1" width="8.8" height="5.1" fill="#c0c0c0"/>
<rect x="334.8" y="398.1" width="8.8" height="5.1" fill="#bdbdbd"/>
<rect x="343.3" y="398.1" width="8.8" height="5.1" fill="#a5a5a5"/>
<rect x="351.8" y="398.1" width="8.8" height="5.1" fill="#999999"/>
<rect x="360.3" y="398.1" width="8.8" height="5.1" fill="#9c9c9c"/>
<rect x="368.8" y="398.1" width="8.8" height="5.1" fill="#999999"/>
<rect x="377.3" y="398.1" width="8.8" height="5.1" fill="#939393"/>
<rect x="385.8" y="398.1" width="8.8" height="5.1" fill="#8d8d8d"/>
<rect x="394.3" y="398.1" width="8.8" height="5.1" fill="#878787"/>
<rect x="402.8" y="398.1" width="8.8" height="5.1" fill="#848484"/>
<rect x="411.3" y="398.1" width="8.8" height="5.1" fill="#7e7e7e"/>
<rect x="419.8" y="398.1" width="8.8" height="5.1" fill="#787878"/>
<rect x="428.3" y="398.1" width="8.8" height="5.1" fill="#757575"/>
<rect x="436.7" y="398.1" width="8.8" height="5.1" fill="#6f6f6f"/>
<rect x="445.2" y="398.1" width="34.3" height="5.1" fill="#696969"/>
<rect x="479.2" y="398.1" width="42.8" height="5.1" fill="#666666"/>
<rect x="521.7" y="398.1" width="34.3" height="5.1" fill="#636363"/>
<rect x="555.7" y="398.1" width="34.3" height="5.1" fill="#333333"/>
<rect x="589.6" y="398.1" width="25.8" height="5.1" fill="#303030"/>
<rect x="615.1" y="398.1" width="34.3" height="5.1" fill="#333333"/>
<rect x="649.1" y="398.1" width="8.8" height="5.1" fill="#3f3f3f"/>
<rect x="657.6" y="398.1" width="8.8" height="5.1" fill="#545454"/>
<rect x="666.1" y="398.1" width="8.8" height="5.1" fill="#575757"/>
<rect x="674.6" y="398.1" width="8.8" height="5.1" fill="#4b4b4b"/>
<rect x="683.1" y="398.1" width="25.8" height="5.1" fill="#393939"/>
<rect x="708.5" y="398.1" width="8.8" height="5.1" fill="#363636"/>
<rect x="717.0" y="398.1" width="8.8" height="5.1" fill="#333333"/>
<rect x="725.5" y="398.1" width="8.8" height="5.1" fill="#303030"/>
<rect x="734.0" y="398.1" width="8.8" height="5.1" fill="#2d2d2d"/>
<rect x="742.5" y="398.1" width="8.8" height="5.1" fill="#2a2a2a"/>
<rect x="751.0" y="398.1" width="8.8" height="5.1" fill="#272727"/>
<rect x="759.5" y="398.1" width="8.8" height="5.1" fill="#242424"/>
<rect x="768.0" y="398.1" width="8.8" height="5.1" fill="#212121"/>
<rect x="88.5" y="402.9" width="8.8" height="5.1" fill="#ababab"/>
<rect x="97.0" y="402.9" width="8.8" height="5.1" fill="#b4b4b4"/>
<rect x="105.5" y="402.9" width="8.8" height="5.1" fill="#a8a8a8"/>
<rect x="114.0" y="402.9" width="8.8" height="5.1" fill="#a2a2a2"/>
<rect x="122.5" y="402.9" width="8.8" height="5.1" fill="#9f9f9f"/>
<rect x="131.0" y="402.9" width="17.3" height="5.1" fill="#9c9c9c"/>
<rect x="148.0" y="402.9" width="17.3" height="5.1" fill="#999999"/>
<rect x="164.9" y="402.9" width="17.3" height="5.1" fill="#969696"/>
<rect x="181.9" y="402.9" width="17.3" height="5.1" fill="#939393"/>
<rect x="198.9" y="402.9" width="8.8" height="5.1" fill="#909090"/>
<rect x="207.4" y="402.9" width="17.3" height="5.1" fill="#8d8d8d"/>
<rect x="224.4" y="402.9" width="8.8" height="5.1" fill="#8a8a8a"/>
<rect x="232.9" y="402.9" width="8.8" height="5.1" fill="#878787"/>
<rect x="241.4" y="402.9" width="17.3" height="5.1" fill="#848484"/>
<rect x="258.4" y="402.9" width="8.8" height="5.1" fill="#818181"/>
<rect x="266.9" y="402.9" width="8.8" height="5.1" fill="#7e7e7e"/>
<rect x="275.4" y="402.9" width="17.3" height="5.1" fill="#7b7b7b"/>
<rect x="292.4" y="402.9" width="8.8" height="5.1" fill="#787878"/>
<rect x="300.8" y="402.9" width="25.8" height="5.1" fill="#757575"/>
<rect x="326.3" y="402.9" width="17.3" height="5.1" fill="#848484"/>
<rect x="343.3" y="402.9" width="8.8" height="5.1" fill="#727272"/>
<rect x="351.8" y="402.9" width="8.8" height="5.1" fill="#696969"/>
<rect x="360.3" y="402.9" width="8.8" height="5.1" fill="#666666"/>
<rect x="368.8" y="402.9" width="8.8" height="5.1" fill="#636363"/>
<rect x="377.3" y="402.9" width="8.8" height="5.1" fill="#606060"/>
<rect x="385.8" y="402.9" width="8.8" height="5.1" fill="#5a5a5a"/>
<rect x="394.3" y="402.9" width="8.8" height="5.1" fill="#4b4b4b"/>
<rect x="402.8" y="402.9" width="8.8" height="5.1" fill="#3c3c3c"/>
<rect x="411.3" y="402.9" width="8.8" height="5.1" fill="#424242"/>
<rect x="419.8" y="402.9" width="8.8" height="5.1" fill="#4b4b4b"/>
<rect x="428.3" y="402.9" width="93.7" height="5.1" fill="#484848"/>
<rect x="521.7" y="402.9" width="34.3" height="5.1" fill="#454545"/>
<rect x="555.7" y="402.9" width="8.8" height="5.1" fill="#242424"/>
<rect x="649.1" y="402.9" width="8.8" height="5.1" fill="#212121"/>
<rect x="657.6" y="402.9" width="8.8" height="5.1" fill="#2d2d2d"/>
<rect x="666.1" y="402.9" width="8.8" height="5.1" fill="#303030"/>
<rect x="674.6" y="402.9" width="8.8" height="5.1" fill="#272727"/>
<rect x="683.1" y="402.9" width="25.8" height="5.1" fill="#1e1e1e"/>
<rect x="88.5" y="407.8" width="8.8" height="5.1" fill="#c0c0c0"/>
<rect x="97.0" y="407.8" width="8.8" height="5.1" fill="#cfcfcf"/>
<rect x="105.5" y="407.8" width="8.8" height="5.1" fill="#bababa"/>
<rect x="114.0" y="407.8" width="8.8" height="5.1" fill="#b1b1b1"/>
<rect x="122.5" y="407.8" width="8.8" height="5.1" fill="#aeaeae"/>
<rect x="131.0" y="407.8" width="8.8" height="5.1" fill="#ababab"/>
<rect x="139.5" y="407.8" width="17.3" height="5.1" fill="#a8a8a8"/>
<rect x="156.5" y="407.8" width="17.3" height="5.1" fill="#a5a5a5"/>
<rect x="173.4" y="407.8" width="17.3" height="5.1" fill="#a2a2a2"/>
<rect x="190.4" y="407.8" width="8.8" height="5.1" fill="#9f9f9f"/>
<rect x="198.9" y="407.8" width="8.8" height="5.1" fill="#9c9c9c"/>
<rect x="207.4" y="407.8" width="17.3" height="5.1" fill="#999999"/>
<rect x="224.4" y="407.8" width="8.8" height="5.1" fill="#969696"/>
<rect x="232.9" y="407.8" width="8.8" height="5.1" fill="#939393"/>
<rect x="241.4" y="407.8" width="8.8" height="5.1" fill="#909090"/>
<rect x="249.9" y="407.8" width="8.8" height="5.1" fill="#8d8d8d"/>
<rect x="258.4" y="407.8" width="17.3" height="5.1" fill="#8a8a8a"/>
<rect x="275.4" y="407.8" width="8.8" height="5.1" fill="#878787"/>
<rect x="283.9" y="407.8" width="8.8" height="5.1" fill="#848484"/>
<rect x="292.4" y="407.8" width="17.3" height="5.1" fill="#818181"/>
<rect x="309.3" y="407.8" width="8.8" height="5.1" fill="#7e7e7e"/>
<rect x="317.8" y="407.8" width="17.3" height="5.1" fill="#7b7b7b"/>
<rect x="334.8" y="407.8" width="17.3" height="5.1" fill="#787878"/>
<rect x="351.8" y="407.8" width="8.8" height="5.1" fill="#757575"/>
<rect x="360.3" y="407.8" width="8.8" height="5.1" fill="#6f6f6f"/>
<rect x="368.8" y="407.8" width="8.8" height="5.1" fill="#6c6c6c"/>
<rect x="377.3" y="407.8" width="8.8" height="5.1" fill="#696969"/>
<rect x="385.8" y="407.8" width="8.8" height="5.1" fill="#636363"/>
<rect x="394.3" y="407.8" width="8.8" height="5.1" fill="#545454"/>
<rect x="402.8" y="407.8" width="8.8" height="5.1" fill="#454545"/>
<rect x="411.3" y="407.8" width="8.8" height="5.1" fill="#3c3c3c"/>
<rect x="419.8" y="407.8" width="8.8" height="5.1" fill="#363636"/>
<rect x="428.3" y="407.8" width="8.8" height="5.1" fill="#303030"/>
<rect x="436.7" y="407.8" width="8.8" height="5.1" fill="#2d2d2d"/>
<rect x="445.2" y="407.8" width="8.8" height="5.1" fill="#272727"/>
<rect x="453.7" y="407.8" width="8.8" height="5.1" fill="#242424"/>
<rect x="462.2" y="407.8" width="8.8" height="5.1" fill="#212121"/>
<rect x="470.7" y="407.8" width="85.2" height="5.1" fill="#1e1e1e"/>
<rect x="555.7" y="407.8" width="8.8" height="5.1" fill="#303030"/>
<rect x="564.2" y="407.8" width="8.8" height="5.1" fill="#1e1e1e"/>
<rect x="632.1" y="407.8" width="17.3" height="5.1" fill="#1e1e1e"/>
<rect x="649.1" y="407.8" width="25.8" height="5.1" fill="#242424"/>
<rect x="674.6" y="407.8" width="8.8" height="5.1" fill="#1e1e1e"/>
<rect x="88.5" y="412.6" width="17.3" height="5.1" fill="#b7b7b7"/>
<rect x="105.5" y="412.6" width="8.8" height="5.1" fill="#b1b1b1"/>
<rect x="114.0" y="412.6" width="17.3" height="5.1" fill="#aeaeae"/>
<rect x="131.0" y="412.6" width="34.3" height="5.1" fill="#ababab"/>
<rect x="164.9" y="412.6" width="17.3" height="5.1" fill="#a8a8a8"/>
<rect x="181.9" y="412.6" width="8.8" height="5.1" fill="#a5a5a5"/>
<rect x="190.4" y="412.6" width="17.3" height="5.1" fill="#a2a2a2"/>
<rect x="207.4" y="412.6" width="8.8" height="5.1" fill="#9f9f9f"/>
<rect x="215.9" y="412.6" width="8.8" height="5.1" fill="#9c9c9c"/>
<rect x="224.4" y="412.6" width="8.8" height="5.1" fill="#999999"/>
<rect x="232.9" y="412.6" width="8.8" height="5.1" fill="#969696"/>
<rect x="241.4" y="412.6" width="8.8" height="5.1" fill="#939393"/>
<rect x="249.9" y="412.6" width="17.3" height="5.1" fill="#909090"/>
<rect x="266.9" y="412.6" width="8.8" height="5.1" fill="#8d8d8d"/>
<rect x="275.4" y="412.6" width="8.8" height="5.1" fill="#8a8a8a"/>
<rect x="283.9" y="412.6" width="8.8" height="5.1" fill="#878787"/>
<rect x="292.4" y="412.6" width="17.3" height="5.1" fill="#848484"/>
<rect x="309.3" y="412.6" width="8.8" height="5.1" fill="#818181"/>
<rect x="317.8" y="412.6" width="17.3" height="5.1" fill="#7e7e7e"/>
<rect x="334.8" y="412.6" width="17.3" height="5.1" fill="#7b7b7b"/>
<rect x="351.8" y="412.6" width="8.8" height="5.1" fill="#787878"/>
<rect x="360.3" y="412.6" width="8.8" height="5.1" fill="#727272"/>
<rect x="368.8" y="412.6" width="8.8" height="5.1" fill="#6f6f6f"/>
<rect x="377.3" y="412.6" width="8.8" height="5.1" fill="#6c6c6c"/>
<rect x="385.8" y="412.6" width="8.8" height="5.1" fill="#666666"/>
<rect x="394.3" y="412.6" width="8.8" height="5.1" fill="#575757"/>
<rect x="402.8" y="412.6" width="8.8" height="5.1" fill="#484848"/>
<rect x="411.3" y="412.6" width="8.8" height="5.1" fill="#3c3c3c"/>
<rect x="419.8" y="412.6" width="8.8" height="5.1" fill="#363636"/>
<rect x="428.3" y="412.6" width="8.8" height="5.1" fill="#333333"/>
<rect x="436.7" y="412.6" width="8.8" height="5.1" fill="#2d2d2d"/>
<rect x="445.2" y="412.6" width="8.8" height="5.1" fill="#2a2a2a"/>
<rect x="453.7" y="412.6" width="8.8" height="5.1" fill="#272727"/>
<rect x="462.2" y="412.6" width="17.3" height="5.1" fill="#212121"/>
<rect x="479.2" y="412.6" width="76.7" height="5.1" fill="#1e1e1e"/>
<rect x="555.7" y="412.6" width="8.8" height="5.1" fill="#303030"/>
<rect x="564.2" y="412.6" width="8.8" height="5.1" fill="#1e1e1e"/>
<rect x="640.6" y="412.6" width="8.8" height="5.1" fill="#1e1e1e"/>
<rect x="649.1" y="412.6" width="17.3" height="5.1" fill="#212121"/>
<rect x="666.1" y="412.6" width="17.3" height="5.1" fill="#1e1e1e"/>
<rect x="88.5" y="417.4" width="8.8" height="5.1" fill="#9c9c9c"/>
<rect x="97.0" y="417.4" width="17.3" height="5.1" fill="#999999"/>
<rect x="114.0" y="417.4" width="8.8" height="5.1" fill="#969696"/>
<rect x="122.5" y="417.4" width="17.3" height="5.1" fill="#939393"/>
<rect x="139.5" y="417.4" width="8.8" height="5.1" fill="#9c9c9c"/>
<rect x="148.0" y="417.4" width="8.8" height="5.1" fill="#9f9f9f"/>
<rect x="156.5" y="417.4" width="8.8" height="5.1" fill="#a2a2a2"/>
<rect x="164.9" y="417.4" width="17.3" height="5.1" fill="#9f9f9f"/>
<rect x="181.9" y="417.4" width="8.8" height="5.1" fill="#9c9c9c"/>
<rect x="190.4" y="417.4" width="8.8" height="5.1" fill="#999999"/>
<rect x="198.9" y="417.4" width="8.8" height="5.1" fill="#969696"/>
<rect x="207.4" y="417.4" width="8.8" height="5.1" fill="#939393"/>
<rect x="215.9" y="417.4" width="17.3" height="5.1" fill="#909090"/>
<rect x="232.9" y="417.4" width="8.8" height="5.1" fill="#8d8d8d"/>
<rect x="241.4" y="417.4" width="8.8" height="5.1" fill="#8a8a8a"/>
<rect x="249.9" y="417.4" width="8.8" height="5.1" fill="#878787"/>
<rect x="258.4" y="417.4" width="17.3" height="5.1" fill="#848484"/>
<rect x="275.4" y="417.4" width="8.8" height="5.1" fill="#818181"/>
<rect x="283.9" y="417.4" width="8.8" height="5.1" fill="#7e7e7e"/>
<rect x="292.4" y="417.4" width="17.3" height="5.1" fill="#7b7b7b"/>
<rect x="309.3" y="417.4" width="17.3" height="5.1" fill="#787878"/>
<rect x="326.3" y="417.4" width="8.8" height="5.1" fill="#757575"/>
<rect x="334.8" y="417.4" width="17.3" height="5.1" fill="#727272"/>
<rect x="351.8" y="417.4" width="8.8" height="5.1" fill="#6f6f6f"/>
<rect x="360.3" y="417.4" width="8.8" height="5.1" fill="#6c6c6c"/>
<rect x="368.8" y="417.4" width="8.8" height="5.1" fill="#696969"/>
<rect x="377.3" y="417.4" width="8.8" height="5.1" fill="#636363"/>
<rect x="385.8" y="417.4" width="8.8" height="5.1" fill="#606060"/>
<rect x="394.3" y="417.4" width="8.8" height="5.1" fill="#545454"/>
<rect x="402.8" y="417.4" width="8.8" height="5.1" fill="#454545"/>
<rect x="411.3" y="417.4" width="17.3" height="5.1" fill="#3c3c3c"/>
<rect x="428.3" y="417.4" width="8.8" height="5.1" fill="#393939"/>
<rect x="436.7" y="417.4" width="17.3" height="5.1" fill="#363636"/>
<rect x="453.7" y="417.4" width="25.8" height="5.1" fill="#333333"/>
<rect x="479.2" y="417.4" width="25.8" height="5.1" fill="#303030"/>
<rect x="504.7" y="417.4" width="25.8" height="5.1" fill="#2d2d2d"/>
<rect x="530.2" y="417.4" width="25.8" height="5.1" fill="#2a2a2a"/>
<rect x="555.7" y="417.4" width="8.8" height="5.1" fill="#1e1e1e"/>
<rect x="88.5" y="422.2" width="8.8" height="5.1" fill="#666666"/>
<rect x="97.0" y="422.2" width="8.8" height="5.1" fill="#5a5a5a"/>
<rect x="105.5" y="422.2" width="8.8" height="5.1" fill="#545454"/>
<rect x="114.0" y="422.2" width="8.8" height="5.1" fill="#4b4b4b"/>
<rect x="122.5" y="422.2" width="8.8" height="5.1" fill="#454545"/>
<rect x="131.0" y="422.2" width="8.8" height="5.1" fill="#3f3f3f"/>
<rect x="139.5" y="422.2" width="8.8" height="5.1" fill="#818181"/>
<rect x="148.0" y="422.2" width="8.8" height="5.1" fill="#bababa"/>
<rect x="156.5" y="422.2" width="17.3" height="5.1" fill="#dbdbdb"/>
<rect x="173.4" y="422.2" width="8.8" height="5.1" fill="#d8d8d8"/>
<rect x="181.9" y="422.2" width="8.8" height="5.1" fill="#d5d5d5"/>
<rect x="190.4" y="422.2" width="8.8" height="5.1" fill="#c6c6c6"/>
<rect x="198.9" y="422.2" width="8.8" height="5.1" fill="#b7b7b7"/>
<rect x="207.4" y="422.2" width="8.8" height="5.1" fill="#aeaeae"/>
<rect x="215.9" y="422.2" width="8.8" height="5.1" fill="#a8a8a8"/>
<rect x="224.4" y="422.2" width="8.8" height="5.1" fill="#a2a2a2"/>
<rect x="232.9" y="422.2" width="8.8" height="5.1" fill="#9f9f9f"/>
<rect x="241.4" y="422.2" width="8.8" height="5.1" fill="#999999"/>
<rect x="249.9" y="422.2" width="17.3" height="5.1" fill="#969696"/>
<rect x="266.9" y="422.2" width="8.8" height="5.1" fill="#939393"/>
<rect x="275.4" y="422.2" width="17.3" height="5.1" fill="#909090"/>
<rect x="292.4" y="422.2" width="17.3" height="5.1" fill="#8d8d8d"/>
<rect x="309.3" y="422.2" width="17.3" height="5.1" fill="#8a8a8a"/>
<rect x="326.3" y="422.2" width="17.3" height="5.1" fill="#878787"/>
<rect x="343.3" y="422.2" width="8.8" height="5.1" fill="#848484"/>
<rect x="351.8" y="422.2" width="8.8" height="5.1" fill="#818181"/>
<rect x="360.3" y="422.2" width="17.3" height="5.1" fill="#7e7e7e"/>
<rect x="377.3" y="422.2" width="8.8" height="5.1" fill="#7b7b7b"/>
<rect x="385.8" y="422.2" width="8.8" height="5.1" fill="#787878"/>
<rect x="394.3" y="422.2" width="8.8" height="5.1" fill="#757575"/>
<rect x="402.8" y="422.2" width="8.8" height="5.1" fill="#727272"/>
<rect x="411.3" y="422.2" width="8.8" height="5.1" fill="#6f6f6f"/>
<rect x="419.8" y="422.2" width="8.8" height="5.1" fill="#6c6c6c"/>
<rect x="428.3" y="422.2" width="17.3" height="5.1" fill="#696969"/>
<rect x="445.2" y="422.2" width="8.8" height="5.1" fill="#666666"/>
<rect x="453.7" y="422.2" width="17.3" height="5.1" fill="#636363"/>
<rect x="470.7" y="422.2" width="17.3" height="5.1" fill="#606060"/>
<rect x="487.7" y="422.2" width="17.3" height="5.1" fill="#5d5d5d"/>
<rect x="504.7" y="422.2" width="8.8" height="5.1" fill="#5a5a5a"/>
<rect x="513.2" y="422.2" width="17.3" height="5.1" fill="#575757"/>
<rect x="530.2" y="422.2" width="8.8" height="5.1" fill="#545454"/>
<rect x="538.7" y="422.2" width="17.3" height="5.1" fill="#515151"/>
<rect x="564.2" y="422.2" width="59.8" height="5.1" fill="#1e1e1e"/>
<rect x="623.6" y="422.2" width="17.3" height="5.1" fill="#212121"/>
<rect x="640.6" y="422.2" width="34.3" height="5.1" fill="#242424"/>
<rect x="674.6" y="422.2" width="25.8" height="5.1" fill="#272727"/>
<rect x="700.1" y="422.2" width="8.8" height="5.1" fill="#242424"/>
<rect x="708.5" y="422.2" width="17.3" height="5.1" fill="#1e1e1e"/>
<rect x="88.5" y="427.0" width="8.8" height="5.1" fill="#454545"/>
<rect x="97.0" y="427.0" width="8.8" height="5.1" fill="#3c3c3c"/>
<rect x="105.5" y="427.0" width="8.8" height="5.1" fill="#393939"/>
<rect x="114.0" y="427.0" width="8.8" height="5.1" fill="#333333"/>
<rect x="122.5" y="427.0" width="8.8" height="5.1" fill="#303030"/>
<rect x="131.0" y="427.0" width="8.8" height="5.1" fill="#2a2a2a"/>
<rect x="139.5" y="427.0" width="8.8" height="5.1" fill="#9c9c9c"/>
<rect x="148.0" y="427.0" width="8.8" height="5.1" fill="#ededed"/>
<rect x="156.5" y="427.0" width="34.3" height="5.1" fill="#ffffff"/>
<rect x="190.4" y="427.0" width="8.8" height="5.1" fill="#f9f9f9"/>
<rect x="198.9" y="427.0" width="8.8" height="5.1" fill="#e7e7e7"/>
<rect x="207.4" y="427.0" width="8.8" height="5.1" fill="#dedede"/>
<rect x="215.9" y="427.0" width="8.8" height="5.1" fill="#d2d2d2"/>
<rect x="224.4" y="427.0" width="8.8" height="5.1" fill="#cccccc"/>
<rect x="232.9" y="427.0" width="8.8" height="5.1" fill="#c6c6c6"/>
<rect x="241.4" y="427.0" width="8.8" height="5.1" fill="#c0c0c0"/>
<rect x="249.9" y="427.0" width="8.8" height="5.1" fill="#bdbdbd"/>
<rect x="258.4" y="427.0" width="17.3" height="5.1" fill="#bababa"/>
<rect x="275.4" y="427.0" width="8.8" height="5.1" fill="#b7b7b7"/>
<rect x="283.9" y="427.0" width="17.3" height="5.1" fill="#b4b4b4"/>
<rect x="300.8" y="427.0" width="8.8" height="5.1" fill="#b1b1b1"/>
<rect x="309.3" y="427.0" width="17.3" height="5.1" fill="#aeaeae"/>
<rect x="326.3" y="427.0" width="8.8" height="5.1" fill="#ababab"/>
<rect x="334.8" y="427.0" width="8.8" height="5.1" fill="#a8a8a8"/>
<rect x="343.3" y="427.0" width="17.3" height="5.1" fill="#a5a5a5"/>
<rect x="360.3" y="427.0" width="8.8" height="5.1" fill="#a2a2a2"/>
<rect x="368.8" y="427.0" width="8.8" height="5.1" fill="#9f9f9f"/>
<rect x="377.3" y="427.0" width="8.8" height="5.1" fill="#999999"/>
<rect x="385.8" y="427.0" width="8.8" height="5.1" fill="#969696"/>
<rect x="394.3" y="427.0" width="17.3" height="5.1" fill="#939393"/>
<rect x="411.3" y="427.0" width="8.8" height="5.1" fill="#909090"/>
<rect x="419.8" y="427.0" width="8.8" height="5.1" fill="#8d8d8d"/>
<rect x="428.3" y="427.0" width="17.3" height="5.1" fill="#8a8a8a"/>
<rect x="445.2" y="427.0" width="8.8" height="5.1" fill="#878787"/>
<rect x="453.7" y="427.0" width="8.8" height="5.1" fill="#848484"/>
<rect x="462.2" y="427.0" width="8.8" height="5.1" fill="#818181"/>
<rect x="470.7" y="427.0" width="17.3" height="5.1" fill="#7e7e7e"/>
<rect x="487.7" y="427.0" width="8.8" height="5.1" fill="#7b7b7b"/>
<rect x="496.2" y="427.0" width="8.8" height="5.1" fill="#787878"/>
<rect x="504.7" y="427.0" width="17.3" height="5.1" fill="#757575"/>
<rect x="521.7" y="427.0" width="8.8" height="5.1" fill="#727272"/>
<rect x="530.2" y="427.0" width="8.8" height="5.1" fill="#6f6f6f"/>
<rect x="538.7" y="427.0" width="8.8" height="5.1" fill="#6c6c6c"/>
<rect x="547.2" y="427.0" width="8.8" height="5.1" fill="#696969"/>
<rect x="555.7" y="427.0" width="8.8" height="5.1" fill="#242424"/>
<rect x="564.2" y="427.0" width="17.3" height="5.1" fill="#272727"/>
<rect x="581.1" y="427.0" width="17.3" height="5.1" fill="#2a2a2a"/>
<rect x="598.1" y="427.0" width="8.8" height="5.1" fill="#2d2d2d"/>
<rect x="606.6" y="427.0" width="8.8" height="5.1" fill="#303030"/>
<rect x="615.1" y="427.0" width="17.3" height="5.1" fill="#333333"/>
<rect x="632.1" y="427.0" width="8.8" height="5.1" fill="#363636"/>
<rect x="640.6" y="427.0" width="17.3" height="5.1" fill="#393939"/>
<rect x="657.6" y="427.0" width="42.8" height="5.1" fill="#3c3c3c"/>
<rect x="700.1" y="427.0" width="8.8" height="5.1" fill="#393939"/>
<rect x="708.5" y="427.0" width="8.8" height="5.1" fill="#303030"/>
<rect x="717.0" y="427.0" width="8.8" height="5.1" fill="#272727"/>
<rect x="725.5" y="427.0" width="8.8" height="5.1" fill="#212121"/>
<rect x="734.0" y="427.0" width="8.8" height="5.1" fill="#1e1e1e"/>
<rect x="88.5" y="431.8" width="25.8" height="5.1" fill="#1e1e1e"/>
<rect x="139.5" y="431.8" width="8.8" height="5.1" fill="#9c9c9c"/>
<rect x="148.0" y="431.8" width="8.8" height="5.1" fill="#ededed"/>
<rect x="156.5" y="431.8" width="34.3" height="5.1" fill="#ffffff"/>
<rect x="190.4" y="431.8" width="8.8" height="5.1" fill="#f9f9f9"/>
<rect x="198.9" y="431.8" width="8.8" height="5.1" fill="#e7e7e7"/>
<rect x="207.4" y="431.8" width="8.8" height="5.1" fill="#dedede"/>
<rect x="215.9" y="431.8" width="8.8" height="5.1" fill="#d2d2d2"/>
<rect x="224.4" y="431.8" width="8.8" height="5.1" fill="#cccccc"/>
<rect x="232.9" y="431.8" width="8.8" height="5.1" fill="#c6c6c6"/>
<rect x="241.4" y="431.8" width="8.8" height="5.1" fill="#c0c0c0"/>
<rect x="249.9" y="431.8" width="8.8" height="5.1" fill="#bdbdbd"/>
<rect x="258.4" y="431.8" width="17.3" height="5.1" fill="#bababa"/>
<rect x="275.4" y="431.8" width="8.8" height="5.1" fill="#b7b7b7"/>
<rect x="283.9" y="431.8" width="17.3" height="5.1" fill="#b4b4b4"/>
<rect x="300.8" y="431.8" width="8.8" height="5.1" fill="#b1b1b1"/>
<rect x="309.3" y="431.8" width="17.3" height="5.1" fill="#aeaeae"/>
<rect x="326.3" y="431.8" width="8.8" height="5.1" fill="#ababab"/>
<rect x="334.8" y="431.8" width="17.3" height="5.1" fill="#a8a8a8"/>
<rect x="351.8" y="431.8" width="8.8" height="5.1" fill="#a5a5a5"/>
<rect x="360.3" y="431.8" width="8.8" height="5.1" fill="#a2a2a2"/>
<rect x="368.8" y="431.8" width="8.8" height="5.1" fill="#9f9f9f"/>
<rect x="377.3" y="431.8" width="8.8" height="5.1" fill="#9c9c9c"/>
<rect x="385.8" y="431.8" width="8.8" height="5.1" fill="#999999"/>
<rect x="394.3" y="431.8" width="8.8" height="5.1" fill="#969696"/>
<rect x="402.8" y="431.8" width="25.8" height="5.1" fill="#939393"/>
<rect x="428.3" y="431.8" width="8.8" height="5.1" fill="#909090"/>
<rect x="436.7" y="431.8" width="8.8" height="5.1" fill="#8d8d8d"/>
<rect x="445.2" y="431.8" width="8.8" height="5.1" fill="#8a8a8a"/>
<rect x="453.7" y="431.8" width="8.8" height="5.1" fill="#878787"/>
<rect x="462.2" y="431.8" width="8.8" height="5.1" fill="#818181"/>
<rect x="470.7" y="431.8" width="17.3" height="5.1" fill="#7e7e7e"/>
<rect x="487.7" y="431.8" width="8.8" height="5.1" fill="#7b7b7b"/>
<rect x="496.2" y="431.8" width="8.8" height="5.1" fill="#787878"/>
<rect x="504.7" y="431.8" width="17.3" height="5.1" fill="#757575"/>
<rect x="521.7" y="431.8" width="8.8" height="5.1" fill="#727272"/>
<rect x="530.2" y="431.8" width="8.8" height="5.1" fill="#6f6f6f"/>
<rect x="538.7" y="431.8" width="8.8" height="5.1" fill="#6c6c6c"/>
<rect x="547.2" y="431.8" width="8.8" height="5.1" fill="#696969"/>
<rect x="555.7" y="431.8" width="8.8" height="5.1" fill="#212121"/>
<rect x="564.2" y="431.8" width="8.8" height="5.1" fill="#2a2a2a"/>
<rect x="572.6" y="431.8" width="8.8" height="5.1" fill="#303030"/>
<rect x="581.1" y="431.8" width="8.8" height="5.1" fill="#333333"/>
<rect x="589.6" y="431.8" width="8.8" height="5.1" fill="#393939"/>
<rect x="598.1" y="431.8" width="8.8" height="5.1" fill="#3c3c3c"/>
<rect x="606.6" y="431.8" width="8.8" height="5.1" fill="#3f3f3f"/>
<rect x="615.1" y="431.8" width="8.8" height="5.1" fill="#3c3c3c"/>
<rect x="623.6" y="431.8" width="8.8" height="5.1" fill="#393939"/>
<rect x="632.1" y="431.8" width="8.8" height="5.1" fill="#363636"/>
<rect x="640.6" y="431.8" width="8.8" height="5.1" fill="#333333"/>
<rect x="649.1" y="431.8" width="42.8" height="5.1" fill="#303030"/>
<rect x="691.6" y="431.8" width="17.3" height="5.1" fill="#2d2d2d"/>
<rect x="708.5" y="431.8" width="17.3" height="5.1" fill="#2a2a2a"/>
<rect x="725.5" y="431.8" width="8.8" height="5.1" fill="#272727"/>
<rect x="734.0" y="431.8" width="17.3" height="5.1" fill="#242424"/>
<rect x="751.0" y="431.8" width="8.8" height="5.1" fill="#212121"/>
<rect x="759.5" y="431.8" width="17.3" height="5.1" fill="#1e1e1e"/>
<rect x="122.5" y="436.7" width="8.8" height="5.1" fill="#1e1e1e"/>
<rect x="131.0" y="436.7" width="8.8" height="5.1" fill="#363636"/>
<rect x="139.5" y="436.7" width="8.8" height="5.1" fill="#909090"/>
<rect x="148.0" y="436.7" width="8.8" height="5.1" fill="#dbdbdb"/>
<rect x="156.5" y="436.7" width="25.8" height="5.1" fill="#ffffff"/>
<rect x="181.9" y="436.7" width="8.8" height="5.1" fill="#fcfcfc"/>
<rect x="190.4" y="436.7" width="8.8" height="5.1" fill="#e7e7e7"/>
<rect x="198.9" y="436.7" width="8.8" height="5.1" fill="#d8d8d8"/>
<rect x="207.4" y="436.7" width="8.8" height="5.1" fill="#cccccc"/>
<rect x="215.9" y="436.7" width="8.8" height="5.1" fill="#c3c3c3"/>
<rect x="224.4" y="436.7" width="8.8" height="5.1" fill="#bdbdbd"/>
<rect x="232.9" y="436.7" width="8.8" height="5.1" fill="#b7b7b7"/>
<rect x="241.4" y="436.7" width="8.8" height="5.1" fill="#b1b1b1"/>
<rect x="249.9" y="436.7" width="8.8" height="5.1" fill="#aeaeae"/>
<rect x="258.4" y="436.7" width="17.3" height="5.1" fill="#ababab"/>
<rect x="275.4" y="436.7" width="8.8" height="5.1" fill="#a8a8a8"/>
<rect x="283.9" y="436.7" width="17.3" height="5.1" fill="#a5a5a5"/>
<rect x="300.8" y="436.7" width="8.8" height="5.1" fill="#a2a2a2"/>
<rect x="309.3" y="436.7" width="17.3" height="5.1" fill="#9f9f9f"/>
<rect x="326.3" y="436.7" width="17.3" height="5.1" fill="#9c9c9c"/>
<rect x="343.3" y="436.7" width="8.8" height="5.1" fill="#999999"/>
<rect x="351.8" y="436.7" width="8.8" height="5.1" fill="#969696"/>
<rect x="360.3" y="436.7" width="8.8" height="5.1" fill="#939393"/>
<rect x="368.8" y="436.7" width="8.8" height="5.1" fill="#909090"/>
<rect x="377.3" y="436.7" width="17.3" height="5.1" fill="#8d8d8d"/>
<rect x="394.3" y="436.7" width="8.8" height="5.1" fill="#8a8a8a"/>
<rect x="402.8" y="436.7" width="8.8" height="5.1" fill="#8d8d8d"/>
<rect x="411.3" y="436.7" width="8.8" height="5.1" fill="#909090"/>
<rect x="419.8" y="436.7" width="17.3" height="5.1" fill="#969696"/>
<rect x="436.7" y="436.7" width="8.8" height="5.1" fill="#939393"/>
<rect x="445.2" y="436.7" width="8.8" height="5.1" fill="#8a8a8a"/>
<rect x="453.7" y="436.7" width="8.8" height="5.1" fill="#818181"/>
<rect x="462.2" y="436.7" width="8.8" height="5.1" fill="#7b7b7b"/>
<rect x="470.7" y="436.7" width="8.8" height="5.1" fill="#787878"/>
<rect x="479.2" y="436.7" width="8.8" height="5.1" fill="#757575"/>
<rect x="487.7" y="436.7" width="8.8" height="5.1" fill="#727272"/>
<rect x="496.2" y="436.7" width="17.3" height="5.1" fill="#6f6f6f"/>
<rect x="513.2" y="436.7" width="8.8" height="5.1" fill="#6c6c6c"/>
<rect x="521.7" y="436.7" width="8.8" height="5.1" fill="#696969"/>
<rect x="530.2" y="436.7" width="8.8" height="5.1" fill="#666666"/>
<rect x="538.7" y="436.7" width="17.3" height="5.1" fill="#636363"/>
<rect x="555.7" y="436.7" width="8.8" height="5.1" fill="#333333"/>
<rect x="564.2" y="436.7" width="8.8" height="5.1" fill="#3f3f3f"/>
<rect x="572.6" y="436.7" width="8.8" height="5.1" fill="#4b4b4b"/>
<rect x="581.1" y="436.7" width="8.8" height="5.1" fill="#515151"/>
<rect x="589.6" y="436.7" width="8.8" height="5.1" fill="#575757"/>
<rect x="598.1" y="436.7" width="8.8" height="5.1" fill="#5d5d5d"/>
<rect x="606.6" y="436.7" width="8.8" height="5.1" fill="#606060"/>
<rect x="615.1" y="436.7" width="8.8" height="5.1" fill="#5d5d5d"/>
<rect x="623.6" y="436.7" width="8.8" height="5.1" fill="#575757"/>
<rect x="632.1" y="436.7" width="8.8" height="5.1" fill="#545454"/>
<rect x="640.6" y="436.7" width="8.8" height="5.1" fill="#4e4e4e"/>
<rect x="649.1" y="436.7" width="25.8" height="5.1" fill="#4b4b4b"/>
<rect x="674.6" y="436.7" width="25.8" height="5.1" fill="#484848"/>
<rect x="700.1" y="436.7" width="8.8" height="5.1" fill="#454545"/>
<rect x="708.5" y="436.7" width="8.8" height="5.1" fill="#424242"/>
<rect x="717.0" y="436.7" width="8.8" height="5.1" fill="#3f3f3f"/>
<rect x="725.5" y="436.7" width="8.8" height="5.1" fill="#3c3c3c"/>
<rect x="734.0" y="436.7" width="8.8" height="5.1" fill="#393939"/>
<rect x="742.5" y="436.7" width="8.8" height="5.1" fill="#363636"/>
<rect x="751.0" y="436.7" width="8.8" height="5.1" fill="#333333"/>
<rect x="759.5" y="436.7" width="8.8" height="5.1" fill="#2d2d2d"/>
<rect x="768.0" y="436.7" width="8.8" height="5.1" fill="#2a2a2a"/>
<rect x="122.5" y="441.5" width="8.8" height="5.1" fill="#1e1e1e"/>
<rect x="131.0" y="441.5" width="8.8" height="5.1" fill="#2d2d2d"/>
<rect x="139.5" y="441.5" width="8.8" height="5.1" fill="#6f6f6f"/>
<rect x="148.0" y="441.5" width="8.8" height="5.1" fill="#a8a8a8"/>
<rect x="156.5" y="441.5" width="8.8" height="5.1" fill="#c9c9c9"/>
<rect x="164.9" y="441.5" width="17.3" height="5.1" fill="#c6c6c6"/>
<rect x="181.9" y="441.5" width="8.8" height="5.1" fill="#c3c3c3"/>
<rect x="190.4" y="441.5" width="8.8" height="5.1" fill="#b4b4b4"/>
<rect x="198.9" y="441.5" width="8.8" height="5.1" fill="#a8a8a8"/>
<rect x="207.4" y="441.5" width="8.8" height="5.1" fill="#9f9f9f"/>
<rect x="215.9" y="441.5" width="8.8" height="5.1" fill="#969696"/>
<rect x="224.4" y="441.5" width="8.8" height="5.1" fill="#939393"/>
<rect x="232.9" y="441.5" width="8.8" height="5.1" fill="#8d8d8d"/>
<rect x="241.4" y="441.5" width="8.8" height="5.1" fill="#878787"/>
<rect x="249.9" y="441.5" width="17.3" height="5.1" fill="#848484"/>
<rect x="266.9" y="441.5" width="17.3" height="5.1" fill="#818181"/>
<rect x="283.9" y="441.5" width="8.8" height="5.1" fill="#7e7e7e"/>
<rect x="292.4" y="441.5" width="17.3" height="5.1" fill="#7b7b7b"/>
<rect x="309.3" y="441.5" width="25.8" height="5.1" fill="#787878"/>
<rect x="334.8" y="441.5" width="17.3" height="5.1" fill="#757575"/>
<rect x="351.8" y="441.5" width="8.8" height="5.1" fill="#727272"/>
<rect x="360.3" y="441.5" width="17.3" height="5.1" fill="#6f6f6f"/>
<rect x="377.3" y="441.5" width="8.8" height="5.1" fill="#6c6c6c"/>
<rect x="385.8" y="441.5" width="8.8" height="5.1" fill="#6f6f6f"/>
<rect x="394.3" y="441.5" width="8.8" height="5.1" fill="#727272"/>
<rect x="402.8" y="441.5" width="8.8" height="5.1" fill="#7b7b7b"/>
<rect x="411.3" y="441.5" width="8.8" height="5.1" fill="#878787"/>
<rect x="419.8" y="441.5" width="8.8" height="5.1" fill="#939393"/>
<rect x="428.3" y="441.5" width="8.8" height="5.1" fill="#999999"/>
<rect x="436.7" y="441.5" width="8.8" height="5.1" fill="#939393"/>
<rect x="445.2" y="441.5" width="8.8" height="5.1" fill="#878787"/>
<rect x="453.7" y="441.5" width="8.8" height="5.1" fill="#787878"/>
<rect x="462.2" y="441.5" width="8.8" height="5.1" fill="#6c6c6c"/>
<rect x="470.7" y="441.5" width="8.8" height="5.1" fill="#636363"/>
<rect x="479.2" y="441.5" width="17.3" height="5.1" fill="#606060"/>
<rect x="496.2" y="441.5" width="8.8" height="5.1" fill="#5d5d5d"/>
<rect x="504.7" y="441.5" width="8.8" height="5.1" fill="#5a5a5a"/>
<rect x="513.2" y="441.5" width="17.3" height="5.1" fill="#575757"/>
<rect x="530.2" y="441.5" width="8.8" height="5.1" fill="#545454"/>
<rect x="538.7" y="441.5" width="17.3" height="5.1" fill="#515151"/>
<rect x="555.7" y="441.5" width="8.8" height="5.1" fill="#363636"/>
<rect x="564.2" y="441.5" width="8.8" height="5.1" fill="#424242"/>
<rect x="572.6" y="441.5" width="8.8" height="5.1" fill="#4b4b4b"/>
<rect x="581.1" y="441.5" width="8.8" height="5.1" fill="#515151"/>
<rect x="589.6" y="441.5" width="8.8" height="5.1" fill="#575757"/>
<rect x="598.1" y="441.5" width="8.8" height="5.1" fill="#5d5d5d"/>
<rect x="606.6" y="441.5" width="8.8" height="5.1" fill="#636363"/>
<rect x="615.1" y="441.5" width="8.8" height="5.1" fill="#5d5d5d"/>
<rect x="623.6" y="441.5" width="8.8" height="5.1" fill="#5a5a5a"/>
<rect x="632.1" y="441.5" width="8.8" height="5.1" fill="#545454"/>
<rect x="640.6" y="441.5" width="8.8" height="5.1" fill="#515151"/>
<rect x="649.1" y="441.5" width="8.8" height="5.1" fill="#4e4e4e"/>
<rect x="657.6" y="441.5" width="25.8" height="5.1" fill="#4b4b4b"/>
<rect x="683.1" y="441.5" width="17.3" height="5.1" fill="#484848"/>
<rect x="700.1" y="441.5" width="8.8" height="5.1" fill="#454545"/>
<rect x="708.5" y="441.5" width="8.8" height="5.1" fill="#424242"/>
<rect x="717.0" y="441.5" width="8.8" height="5.1" fill="#3f3f3f"/>
<rect x="725.5" y="441.5" width="8.8" height="5.1" fill="#3c3c3c"/>
<rect x="734.0" y="441.5" width="8.8" height="5.1" fill="#393939"/>
<rect x="742.5" y="441.5" width="8.8" height="5.1" fill="#363636"/>
<rect x="751.0" y="441.5" width="8.8" height="5.1" fill="#333333"/>
<rect x="759.5" y="441.5" width="8.8" height="5.1" fill="#303030"/>
<rect x="768.0" y="441.5" width="8.8" height="5.1" fill="#2a2a2a"/>
<rect x="139.5" y="446.3" width="8.8" height="5.1" fill="#4e4e4e"/>
<rect x="148.0" y="446.3" width="8.8" height="5.1" fill="#727272"/>
<rect x="156.5" y="446.3" width="17.3" height="5.1" fill="#878787"/>
<rect x="173.4" y="446.3" width="8.8" height="5.1" fill="#8a8a8a"/>
<rect x="181.9" y="446.3" width="8.8" height="5.1" fill="#878787"/>
<rect x="190.4" y="446.3" width="8.8" height="5.1" fill="#7e7e7e"/>
<rect x="198.9" y="446.3" width="8.8" height="5.1" fill="#757575"/>
<rect x="207.4" y="446.3" width="8.8" height="5.1" fill="#6f6f6f"/>
<rect x="215.9" y="446.3" width="8.8" height="5.1" fill="#696969"/>
<rect x="224.4" y="446.3" width="8.8" height="5.1" fill="#636363"/>
<rect x="232.9" y="446.3" width="8.8" height="5.1" fill="#606060"/>
<rect x="241.4" y="446.3" width="8.8" height="5.1" fill="#5a5a5a"/>
<rect x="249.9" y="446.3" width="8.8" height="5.1" fill="#575757"/>
<rect x="258.4" y="446.3" width="8.8" height="5.1" fill="#545454"/>
<rect x="266.9" y="446.3" width="17.3" height="5.1" fill="#515151"/>
<rect x="283.9" y="446.3" width="25.8" height="5.1" fill="#4e4e4e"/>
<rect x="309.3" y="446.3" width="25.8" height="5.1" fill="#4b4b4b"/>
<rect x="334.8" y="446.3" width="25.8" height="5.1" fill="#484848"/>
<rect x="360.3" y="446.3" width="25.8" height="5.1" fill="#454545"/>
<rect x="385.8" y="446.3" width="8.8" height="5.1" fill="#4b4b4b"/>
<rect x="394.3" y="446.3" width="8.8" height="5.1" fill="#575757"/>
<rect x="402.8" y="446.3" width="8.8" height="5.1" fill="#696969"/>
<rect x="411.3" y="446.3" width="8.8" height="5.1" fill="#818181"/>
<rect x="419.8" y="446.3" width="8.8" height="5.1" fill="#999999"/>
<rect x="428.3" y="446.3" width="8.8" height="5.1" fill="#a5a5a5"/>
<rect x="436.7" y="446.3" width="8.8" height="5.1" fill="#9c9c9c"/>
<rect x="445.2" y="446.3" width="8.8" height="5.1" fill="#8a8a8a"/>
<rect x="453.7" y="446.3" width="8.8" height="5.1" fill="#727272"/>
<rect x="462.2" y="446.3" width="8.8" height="5.1" fill="#636363"/>
<rect x="470.7" y="446.3" width="8.8" height="5.1" fill="#575757"/>
<rect x="479.2" y="446.3" width="8.8" height="5.1" fill="#545454"/>
<rect x="487.7" y="446.3" width="8.8" height="5.1" fill="#515151"/>
<rect x="496.2" y="446.3" width="8.8" height="5.1" fill="#4e4e4e"/>
<rect x="504.7" y="446.3" width="17.3" height="5.1" fill="#4b4b4b"/>
<rect x="521.7" y="446.3" width="8.8" height="5.1" fill="#484848"/>
<rect x="530.2" y="446.3" width="8.8" height="5.1" fill="#454545"/>
<rect x="538.7" y="446.3" width="8.8" height="5.1" fill="#424242"/>
<rect x="547.2" y="446.3" width="8.8" height="5.1" fill="#3f3f3f"/>
<rect x="555.7" y="446.3" width="8.8" height="5.1" fill="#272727"/>
<rect x="564.2" y="446.3" width="8.8" height="5.1" fill="#303030"/>
<rect x="572.6" y="446.3" width="8.8" height="5.1" fill="#393939"/>
<rect x="581.1" y="446.3" width="8.8" height="5.1" fill="#3c3c3c"/>
<rect x="589.6" y="446.3" width="8.8" height="5.1" fill="#424242"/>
<rect x="598.1" y="446.3" width="8.8" height="5.1" fill="#454545"/>
<rect x="606.6" y="446.3" width="8.8" height="5.1" fill="#4b4b4b"/>
<rect x="615.1" y="446.3" width="8.8" height="5.1" fill="#484848"/>
<rect x="623.6" y="446.3" width="8.8" height="5.1" fill="#424242"/>
<rect x="632.1" y="446.3" width="8.8" height="5.1" fill="#3f3f3f"/>
<rect x="640.6" y="446.3" width="8.8" height="5.1" fill="#3c3c3c"/>
<rect x="649.1" y="446.3" width="34.3" height="5.1" fill="#393939"/>
<rect x="683.1" y="446.3" width="25.8" height="5.1" fill="#363636"/>
<rect x="708.5" y="446.3" width="8.8" height="5.1" fill="#333333"/>
<rect x="717.0" y="446.3" width="8.8" height="5.1" fill="#303030"/>
<rect x="725.5" y="446.3" width="17.3" height="5.1" fill="#2d2d2d"/>
<rect x="742.5" y="446.3" width="8.8" height="5.1" fill="#2a2a2a"/>
<rect x="751.0" y="446.3" width="8.8" height="5.1" fill="#272727"/>
<rect x="759.5" y="446.3" width="8.8" height="5.1" fill="#242424"/>
<rect x="768.0" y="446.3" width="8.8" height="5.1" fill="#212121"/>
<rect x="88.5" y="451.1" width="17.3" height="5.1" fill="#242424"/>
<rect x="105.5" y="451.1" width="25.8" height="5.1" fill="#272727"/>
<rect x="131.0" y="451.1" width="8.8" height="5.1" fill="#2a2a2a"/>
<rect x="139.5" y="451.1" width="8.8" height="5.1" fill="#333333"/>
<rect x="148.0" y="451.1" width="8.8" height="5.1" fill="#484848"/>
<rect x="156.5" y="451.1" width="8.8" height="5.1" fill="#575757"/>
<rect x="164.9" y="451.1" width="8.8" height="5.1" fill="#5a5a5a"/>
<rect x="173.4" y="451.1" width="17.3" height="5.1" fill="#5d5d5d"/>
<rect x="190.4" y="451.1" width="8.8" height="5.1" fill="#5a5a5a"/>
<rect x="198.9" y="451.1" width="8.8" height="5.1" fill="#545454"/>
<rect x="207.4" y="451.1" width="8.8" height="5.1" fill="#4e4e4e"/>
<rect x="215.9" y="451.1" width="8.8" height="5.1" fill="#484848"/>
<rect x="224.4" y="451.1" width="8.8" height="5.1" fill="#424242"/>
<rect x="232.9" y="451.1" width="8.8" height="5.1" fill="#3c3c3c"/>
<rect x="241.4" y="451.1" width="8.8" height="5.1" fill="#363636"/>
<rect x="249.9" y="451.1" width="8.8" height="5.1" fill="#333333"/>
<rect x="258.4" y="451.1" width="8.8" height="5.1" fill="#303030"/>
<rect x="266.9" y="451.1" width="8.8" height="5.1" fill="#2d2d2d"/>
<rect x="275.4" y="451.1" width="25.8" height="5.1" fill="#2a2a2a"/>
<rect x="300.8" y="451.1" width="42.8" height="5.1" fill="#272727"/>
<rect x="343.3" y="451.1" width="42.8" height="5.1" fill="#242424"/>
<rect x="385.8" y="451.1" width="8.8" height="5.1" fill="#2d2d2d"/>
<rect x="394.3" y="451.1" width="8.8" height="5.1" fill="#3c3c3c"/>
<rect x="402.8" y="451.1" width="8.8" height="5.1" fill="#515151"/>
<rect x="411.3" y="451.1" width="8.8" height="5.1" fill="#6c6c6c"/>
<rect x="419.8" y="451.1" width="8.8" height="5.1" fill="#878787"/>
<rect x="428.3" y="451.1" width="8.8" height="5.1" fill="#939393"/>
<rect x="436.7" y="451.1" width="8.8" height="5.1" fill="#8a8a8a"/>
<rect x="445.2" y="451.1" width="8.8" height="5.1" fill="#757575"/>
<rect x="453.7" y="451.1" width="8.8" height="5.1" fill="#606060"/>
<rect x="462.2" y="451.1" width="8.8" height="5.1" fill="#4e4e4e"/>
<rect x="470.7" y="451.1" width="8.8" height="5.1" fill="#424242"/>
<rect x="479.2" y="451.1" width="8.8" height="5.1" fill="#3f3f3f"/>
<rect x="487.7" y="451.1" width="8.8" height="5.1" fill="#3c3c3c"/>
<rect x="496.2" y="451.1" width="17.3" height="5.1" fill="#393939"/>
<rect x="513.2" y="451.1" width="17.3" height="5.1" fill="#363636"/>
<rect x="530.2" y="451.1" width="8.8" height="5.1" fill="#333333"/>
<rect x="538.7" y="451.1" width="8.8" height="5.1" fill="#303030"/>
<rect x="547.2" y="451.1" width="8.8" height="5.1" fill="#2d2d2d"/>
<rect x="683.1" y="451.1" width="8.8" height="5.1" fill="#1e1e1e"/>
<rect x="691.6" y="451.1" width="8.8" height="5.1" fill="#242424"/>
<rect x="700.1" y="451.1" width="8.8" height="5.1" fill="#1e1e1e"/>
<rect x="88.5" y="455.9" width="17.3" height="5.1" fill="#333333"/>
<rect x="105.5" y="455.9" width="25.8" height="5.1" fill="#363636"/>
<rect x="131.0" y="455.9" width="34.3" height="5.1" fill="#393939"/>
<rect x="164.9" y="455.9" width="8.8" height="5.1" fill="#3f3f3f"/>
<rect x="173.4" y="455.9" width="8.8" height="5.1" fill="#424242"/>
<rect x="181.9" y="455.9" width="8.8" height="5.1" fill="#454545"/>
<rect x="190.4" y="455.9" width="8.8" height="5.1" fill="#424242"/>
<rect x="198.9" y="455.9" width="8.8" height="5.1" fill="#3f3f3f"/>
<rect x="207.4" y="455.9" width="8.8" height="5.1" fill="#393939"/>
<rect x="215.9" y="455.9" width="17.3" height="5.1" fill="#333333"/>
<rect x="232.9" y="455.9" width="25.8" height="5.1" fill="#303030"/>
<rect x="258.4" y="455.9" width="8.8" height="5.1" fill="#2d2d2d"/>
<rect x="266.9" y="455.9" width="8.8" height="5.1" fill="#2a2a2a"/>
<rect x="275.4" y="455.9" width="8.8" height="5.1" fill="#272727"/>
<rect x="283.9" y="455.9" width="8.8" height="5.1" fill="#242424"/>
<rect x="292.4" y="455.9" width="8.8" height="5.1" fill="#212121"/>
<rect x="300.8" y="455.9" width="42.8" height="5.1" fill="#1e1e1e"/>
<rect x="394.3" y="455.9" width="8.8" height="5.1" fill="#1e1e1e"/>
<rect x="402.8" y="455.9" width="8.8" height="5.1" fill="#2a2a2a"/>
<rect x="411.3" y="455.9" width="8.8" height="5.1" fill="#3c3c3c"/>
<rect x="419.8" y="455.9" width="8.8" height="5.1" fill="#515151"/>
<rect x="428.3" y="455.9" width="8.8" height="5.1" fill="#575757"/>
<rect x="436.7" y="455.9" width="8.8" height="5.1" fill="#545454"/>
<rect x="445.2" y="455.9" width="8.8" height="5.1" fill="#454545"/>
<rect x="453.7" y="455.9" width="8.8" height="5.1" fill="#333333"/>
<rect x="462.2" y="455.9" width="8.8" height="5.1" fill="#272727"/>
<rect x="470.7" y="455.9" width="59.8" height="5.1" fill="#1e1e1e"/>
<rect x="683.1" y="455.9" width="8.8" height="5.1" fill="#242424"/>
<rect x="691.6" y="455.9" width="8.8" height="5.1" fill="#2d2d2d"/>
<rect x="700.1" y="455.9" width="8.8" height="5.1" fill="#2a2a2a"/>
<rect x="708.5" y="455.9" width="8.8" height="5.1" fill="#1e1e1e"/>
<rect x="88.5" y="460.7" width="8.8" height="5.1" fill="#363636"/>
<rect x="97.0" y="460.7" width="17.3" height="5.1" fill="#393939"/>
<rect x="114.0" y="460.7" width="17.3" height="5.1" fill="#3c3c3c"/>
<rect x="131.0" y="460.7" width="25.8" height="5.1" fill="#3f3f3f"/>
<rect x="156.5" y="460.7" width="34.3" height="5.1" fill="#3c3c3c"/>
<rect x="190.4" y="460.7" width="34.3" height="5.1" fill="#393939"/>
<rect x="224.4" y="460.7" width="25.8" height="5.1" fill="#363636"/>
<rect x="249.9" y="460.7" width="8.8" height="5.1" fill="#333333"/>
<rect x="258.4" y="460.7" width="8.8" height="5.1" fill="#303030"/>
<rect x="266.9" y="460.7" width="8.8" height="5.1" fill="#2d2d2d"/>
<rect x="275.4" y="460.7" width="8.8" height="5.1" fill="#2a2a2a"/>
<rect x="283.9" y="460.7" width="8.8" height="5.1" fill="#272727"/>
<rect x="292.4" y="460.7" width="17.3" height="5.1" fill="#242424"/>
<rect x="309.3" y="460.7" width="17.3" height="5.1" fill="#212121"/>
<rect x="326.3" y="460.7" width="25.8" height="5.1" fill="#1e1e1e"/>
<rect x="411.3" y="460.7" width="8.8" height="5.1" fill="#1e1e1e"/>
<rect x="419.8" y="460.7" width="8.8" height="5.1" fill="#242424"/>
<rect x="428.3" y="460.7" width="17.3" height="5.1" fill="#2a2a2a"/>
<rect x="445.2" y="460.7" width="8.8" height="5.1" fill="#242424"/>
<rect x="453.7" y="460.7" width="8.8" height="5.1" fill="#1e1e1e"/>
<rect x="683.1" y="460.7" width="8.8" height="5.1" fill="#2a2a2a"/>
<rect x="691.6" y="460.7" width="8.8" height="5.1" fill="#363636"/>
<rect x="700.1" y="460.7" width="8.8" height="5.1" fill="#2d2d2d"/>
<rect x="708.5" y="460.7" width="8.8" height="5.1" fill="#1e1e1e"/>
<rect x="88.5" y="465.6" width="17.3" height="5.1" fill="#393939"/>
<rect x="105.5" y="465.6" width="17.3" height="5.1" fill="#3c3c3c"/>
<rect x="122.5" y="465.6" width="42.8" height="5.1" fill="#3f3f3f"/>
<rect x="164.9" y="465.6" width="34.3" height="5.1" fill="#3c3c3c"/>
<rect x="198.9" y="465.6" width="34.3" height="5.1" fill="#393939"/>
<rect x="232.9" y="465.6" width="25.8" height="5.1" fill="#363636"/>
<rect x="258.4" y="465.6" width="8.8" height="5.1" fill="#303030"/>
<rect x="266.9" y="465.6" width="8.8" height="5.1" fill="#2d2d2d"/>
<rect x="275.4" y="465.6" width="8.8" height="5.1" fill="#2a2a2a"/>
<rect x="283.9" y="465.6" width="8.8" height="5.1" fill="#272727"/>
<rect x="292.4" y="465.6" width="17.3" height="5.1" fill="#242424"/>
<rect x="309.3" y="465.6" width="17.3" height="5.1" fill="#212121"/>
<rect x="326.3" y="465.6" width="25.8" height="5.1" fill="#1e1e1e"/>
<rect x="411.3" y="465.6" width="8.8" height="5.1" fill="#1e1e1e"/>
<rect x="419.8" y="465.6" width="8.8" height="5.1" fill="#242424"/>
<rect x="428.3" y="465.6" width="17.3" height="5.1" fill="#2a2a2a"/>
<rect x="445.2" y="465.6" width="8.8" height="5.1" fill="#272727"/>
<rect x="453.7" y="465.6" width="8.8" height="5.1" fill="#1e1e1e"/>
<rect x="674.6" y="465.6" width="8.8" height="5.1" fill="#1e1e1e"/>
<rect x="683.1" y="465.6" width="8.8" height="5.1" fill="#2a2a2a"/>
<rect x="691.6" y="465.6" width="8.8" height="5.1" fill="#363636"/>
<rect x="700.1" y="465.6" width="8.8" height="5.1" fill="#303030"/>
<rect x="708.5" y="465.6" width="8.8" height="5.1" fill="#1e1e1e"/>
<rect x="88.5" y="470.4" width="8.8" height="5.1" fill="#484848"/>
<rect x="97.0" y="470.4" width="8.8" height="5.1" fill="#454545"/>
<rect x="105.5" y="470.4" width="17.3" height="5.1" fill="#3c3c3c"/>
<rect x="122.5" y="470.4" width="42.8" height="5.1" fill="#3f3f3f"/>
<rect x="164.9" y="470.4" width="34.3" height="5.1" fill="#3c3c3c"/>
<rect x="198.9" y="470.4" width="34.3" height="5.1" fill="#393939"/>
<rect x="232.9" y="470.4" width="17.3" height="5.1" fill="#363636"/>
<rect x="249.9" y="470.4" width="8.8" height="5.1" fill="#333333"/>
<rect x="258.4" y="470.4" width="8.8" height="5.1" fill="#303030"/>
<rect x="266.9" y="470.4" width="8.8" height="5.1" fill="#2d2d2d"/>
<rect x="275.4" y="470.4" width="8.8" height="5.1" fill="#2a2a2a"/>
<rect x="283.9" y="470.4" width="8.8" height="5.1" fill="#272727"/>
<rect x="292.4" y="470.4" width="8.8" height="5.1" fill="#242424"/>
<rect x="300.8" y="470.4" width="8.8" height="5.1" fill="#2d2d2d"/>
<rect x="309.3" y="470.4" width="8.8" height="5.1" fill="#242424"/>
<rect x="317.8" y="470.4" width="8.8" height="5.1" fill="#212121"/>
<rect x="326.3" y="470.4" width="25.8" height="5.1" fill="#1e1e1e"/>
<rect x="419.8" y="470.4" width="34.3" height="5.1" fill="#1e1e1e"/>
<rect x="666.1" y="470.4" width="17.3" height="5.1" fill="#1e1e1e"/>
<rect x="683.1" y="470.4" width="8.8" height="5.1" fill="#272727"/>
<rect x="691.6" y="470.4" width="8.8" height="5.1" fill="#303030"/>
<rect x="700.1" y="470.4" width="8.8" height="5.1" fill="#2a2a2a"/>
<rect x="708.5" y="470.4" width="8.8" height="5.1" fill="#212121"/>
<rect x="717.0" y="470.4" width="25.8" height="5.1" fill="#1e1e1e"/>
<rect x="88.5" y="475.2" width="8.8" height="5.1" fill="#5a5a5a"/>
<rect x="97.0" y="475.2" width="8.8" height="5.1" fill="#575757"/>
<rect x="105.5" y="475.2" width="8.8" height="5.1" fill="#4b4b4b"/>
<rect x="114.0" y="475.2" width="17.3" height="5.1" fill="#3c3c3c"/>
<rect x="131.0" y="475.2" width="25.8" height="5.1" fill="#3f3f3f"/>
<rect x="156.5" y="475.2" width="34.3" height="5.1" fill="#3c3c3c"/>
<rect x="190.4" y="475.2" width="34.3" height="5.1" fill="#393939"/>
<rect x="224.4" y="475.2" width="25.8" height="5.1" fill="#363636"/>
<rect x="249.9" y="475.2" width="8.8" height="5.1" fill="#333333"/>
<rect x="258.4" y="475.2" width="8.8" height="5.1" fill="#303030"/>
<rect x="266.9" y="475.2" width="8.8" height="5.1" fill="#2d2d2d"/>
<rect x="275.4" y="475.2" width="8.8" height="5.1" fill="#2a2a2a"/>
<rect x="283.9" y="475.2" width="17.3" height="5.1" fill="#272727"/>
<rect x="300.8" y="475.2" width="8.8" height="5.1" fill="#333333"/>
<rect x="309.3" y="475.2" width="8.8" height="5.1" fill="#272727"/>
<rect x="317.8" y="475.2" width="8.8" height="5.1" fill="#212121"/>
<rect x="326.3" y="475.2" width="25.8" height="5.1" fill="#1e1e1e"/>
<rect x="598.1" y="475.2" width="25.8" height="5.1" fill="#1e1e1e"/>
<rect x="657.6" y="475.2" width="8.8" height="5.1" fill="#1e1e1e"/>
<rect x="666.1" y="475.2" width="8.8" height="5.1" fill="#212121"/>
<rect x="674.6" y="475.2" width="8.8" height="5.1" fill="#272727"/>
<rect x="683.1" y="475.2" width="8.8" height="5.1" fill="#2d2d2d"/>
<rect x="691.6" y="475.2" width="25.8" height="5.1" fill="#303030"/>
<rect x="717.0" y="475.2" width="8.8" height="5.1" fill="#2d2d2d"/>
<rect x="725.5" y="475.2" width="8.8" height="5.1" fill="#272727"/>
<rect x="734.0" y="475.2" width="8.8" height="5.1" fill="#212121"/>
<rect x="742.5" y="475.2" width="17.3" height="5.1" fill="#1e1e1e"/>
<rect x="88.5" y="480.0" width="8.8" height="5.1" fill="#4e4e4e"/>
<rect x="97.0" y="480.0" width="8.8" height="5.1" fill="#4b4b4b"/>
<rect x="105.5" y="480.0" width="8.8" height="5.1" fill="#3f3f3f"/>
<rect x="114.0" y="480.0" width="8.8" height="5.1" fill="#333333"/>
<rect x="122.5" y="480.0" width="59.8" height="5.1" fill="#363636"/>
<rect x="181.9" y="480.0" width="34.3" height="5.1" fill="#333333"/>
<rect x="215.9" y="480.0" width="34.3" height="5.1" fill="#303030"/>
<rect x="249.9" y="480.0" width="8.8" height="5.1" fill="#2d2d2d"/>
<rect x="258.4" y="480.0" width="8.8" height="5.1" fill="#2a2a2a"/>
<rect x="266.9" y="480.0" width="17.3" height="5.1" fill="#272727"/>
<rect x="283.9" y="480.0" width="8.8" height="5.1" fill="#242424"/>
<rect x="292.4" y="480.0" width="8.8" height="5.1" fill="#212121"/>
<rect x="300.8" y="480.0" width="42.8" height="5.1" fill="#1e1e1e"/>
<rect x="581.1" y="480.0" width="8.8" height="5.1" fill="#1e1e1e"/>
<rect x="589.6" y="480.0" width="8.8" height="5.1" fill="#212121"/>
<rect x="598.1" y="480.0" width="8.8" height="5.1" fill="#303030"/>
<rect x="606.6" y="480.0" width="8.8" height="5.1" fill="#363636"/>
<rect x="615.1" y="480.0" width="8.8" height="5.1" fill="#303030"/>
<rect x="623.6" y="480.0" width="25.8" height="5.1" fill="#272727"/>
<rect x="649.1" y="480.0" width="25.8" height="5.1" fill="#2a2a2a"/>
<rect x="674.6" y="480.0" width="8.8" height="5.1" fill="#333333"/>
<rect x="683.1" y="480.0" width="8.8" height="5.1" fill="#424242"/>
<rect x="691.6" y="480.0" width="17.3" height="5.1" fill="#4e4e4e"/>
<rect x="708.5" y="480.0" width="8.8" height="5.1" fill="#484848"/>
<rect x="717.0" y="480.0" width="8.8" height="5.1" fill="#3c3c3c"/>
<rect x="725.5" y="480.0" width="8.8" height="5.1" fill="#333333"/>
<rect x="734.0" y="480.0" width="42.8" height="5.1" fill="#2a2a2a"/>
<rect x="88.5" y="484.8" width="17.3" height="5.1" fill="#2d2d2d"/>
<rect x="105.5" y="484.8" width="8.8" height="5.1" fill="#272727"/>
<rect x="114.0" y="484.8" width="25.8" height="5.1" fill="#242424"/>
<rect x="139.5" y="484.8" width="8.8" height="5.1" fill="#272727"/>
<rect x="148.0" y="484.8" width="51.3" height="5.1" fill="#242424"/>
<rect x="198.9" y="484.8" width="51.3" height="5.1" fill="#212121"/>
<rect x="249.9" y="484.8" width="42.8" height="5.1" fill="#1e1e1e"/>
<rect x="572.6" y="484.8" width="8.8" height="5.1" fill="#1e1e1e"/>
<rect x="581.1" y="484.8" width="8.8" height="5.1" fill="#272727"/>
<rect x="589.6" y="484.8" width="8.8" height="5.1" fill="#393939"/>
<rect x="598.1" y="484.8" width="8.8" height="5.1" fill="#545454"/>
<rect x="606.6" y="484.8" width="8.8" height="5.1" fill="#636363"/>
<rect x="615.1" y="484.8" width="8.8" height="5.1" fill="#575757"/>
<rect x="623.6" y="484.8" width="8.8" height="5.1" fill="#3f3f3f"/>
<rect x="632.1" y="484.8" width="34.3" height="5.1" fill="#393939"/>
<rect x="666.1" y="484.8" width="8.8" height="5.1" fill="#3c3c3c"/>
<rect x="674.6" y="484.8" width="8.8" height="5.1" fill="#454545"/>
<rect x="683.1" y="484.8" width="8.8" height="5.1" fill="#5a5a5a"/>
<rect x="691.6" y="484.8" width="8.8" height="5.1" fill="#666666"/>
<rect x="700.1" y="484.8" width="8.8" height="5.1" fill="#696969"/>
<rect x="708.5" y="484.8" width="8.8" height="5.1" fill="#606060"/>
<rect x="717.0" y="484.8" width="8.8" height="5.1" fill="#4e4e4e"/>
<rect x="725.5" y="484.8" width="25.8" height="5.1" fill="#3c3c3c"/>
<rect x="751.0" y="484.8" width="25.8" height="5.1" fill="#393939"/>
<rect x="181.9" y="489.6" width="34.3" height="5.1" fill="#1e1e1e"/>
<rect x="572.6" y="489.6" width="8.8" height="5.1" fill="#1e1e1e"/>
<rect x="581.1" y="489.6" width="8.8" height="5.1" fill="#2a2a2a"/>
<rect x="589.6" y="489.6" width="8.8" height="5.1" fill="#484848"/>
<rect x="598.1" y="489.6" width="8.8" height="5.1" fill="#6c6c6c"/>
<rect x="606.6" y="489.6" width="8.8" height="5.1" fill="#7b7b7b"/>
<rect x="615.1" y="489.6" width="8.8" height="5.1" fill="#6f6f6f"/>
<rect x="623.6" y="489.6" width="8.8" height="5.1" fill="#4e4e4e"/>
<rect x="632.1" y="489.6" width="25.8" height="5.1" fill="#3f3f3f"/>
<rect x="657.6" y="489.6" width="17.3" height="5.1" fill="#424242"/>
<rect x="674.6" y="489.6" width="8.8" height="5.1" fill="#4b4b4b"/>
<rect x="683.1" y="489.6" width="8.8" height="5.1" fill="#606060"/>
<rect x="691.6" y="489.6" width="8.8" height="5.1" fill="#6f6f6f"/>
<rect x="700.1" y="489.6" width="8.8" height="5.1" fill="#727272"/>
<rect x="708.5" y="489.6" width="8.8" height="5.1" fill="#666666"/>
<rect x="717.0" y="489.6" width="8.8" height="5.1" fill="#545454"/>
<rect x="725.5" y="489.6" width="42.8" height="5.1" fill="#424242"/>
<rect x="768.0" y="489.6" width="8.8" height="5.1" fill="#3f3f3f"/>
<rect x="173.4" y="494.5" width="17.3" height="5.1" fill="#1e1e1e"/>
<rect x="190.4" y="494.5" width="17.3" height="5.1" fill="#212121"/>
<rect x="207.4" y="494.5" width="17.3" height="5.1" fill="#1e1e1e"/>
<rect x="572.6" y="494.5" width="8.8" height="5.1" fill="#1e1e1e"/>
<rect x="581.1" y="494.5" width="8.8" height="5.1" fill="#2a2a2a"/>
<rect x="589.6" y="494.5" width="8.8" height="5.1" fill="#3f3f3f"/>
<rect x="598.1" y="494.5" width="8.8" height="5.1" fill="#5d5d5d"/>
<rect x="606.6" y="494.5" width="8.8" height="5.1" fill="#6c6c6c"/>
<rect x="615.1" y="494.5" width="8.8" height="5.1" fill="#606060"/>
<rect x="623.6" y="494.5" width="8.8" height="5.1" fill="#454545"/>
<rect x="632.1" y="494.5" width="42.8" height="5.1" fill="#393939"/>
<rect x="674.6" y="494.5" width="8.8" height="5.1" fill="#3f3f3f"/>
<rect x="683.1" y="494.5" width="8.8" height="5.1" fill="#515151"/>
<rect x="691.6" y="494.5" width="8.8" height="5.1" fill="#5d5d5d"/>
<rect x="700.1" y="494.5" width="8.8" height="5.1" fill="#606060"/>
<rect x="708.5" y="494.5" width="8.8" height="5.1" fill="#575757"/>
<rect x="717.0" y="494.5" width="8.8" height="5.1" fill="#484848"/>
<rect x="725.5" y="494.5" width="17.3" height="5.1" fill="#3c3c3c"/>
<rect x="742.5" y="494.5" width="34.3" height="5.1" fill="#393939"/>
<rect x="139.5" y="499.3" width="8.8" height="5.1" fill="#1e1e1e"/>
<rect x="148.0" y="499.3" width="8.8" height="5.1" fill="#272727"/>
<rect x="156.5" y="499.3" width="8.8" height="5.1" fill="#212121"/>
<rect x="164.9" y="499.3" width="8.8" height="5.1" fill="#1e1e1e"/>
<rect x="181.9" y="499.3" width="34.3" height="5.1" fill="#1e1e1e"/>
<rect x="572.6" y="499.3" width="17.3" height="5.1" fill="#1e1e1e"/>
<rect x="589.6" y="499.3" width="8.8" height="5.1" fill="#272727"/>
<rect x="598.1" y="499.3" width="8.8" height="5.1" fill="#393939"/>
<rect x="606.6" y="499.3" width="8.8" height="5.1" fill="#424242"/>
<rect x="615.1" y="499.3" width="8.8" height="5.1" fill="#3c3c3c"/>
<rect x="623.6" y="499.3" width="8.8" height="5.1" fill="#2a2a2a"/>
<rect x="632.1" y="499.3" width="25.8" height="5.1" fill="#272727"/>
<rect x="657.6" y="499.3" width="17.3" height="5.1" fill="#2a2a2a"/>
<rect x="674.6" y="499.3" width="8.8" height="5.1" fill="#2d2d2d"/>
<rect x="683.1" y="499.3" width="8.8" height="5.1" fill="#363636"/>
<rect x="691.6" y="499.3" width="17.3" height="5.1" fill="#3f3f3f"/>
<rect x="708.5" y="499.3" width="8.8" height="5.1" fill="#3c3c3c"/>
<rect x="717.0" y="499.3" width="8.8" height="5.1" fill="#333333"/>
<rect x="725.5" y="499.3" width="8.8" height="5.1" fill="#2d2d2d"/>
<rect x="734.0" y="499.3" width="25.8" height="5.1" fill="#2a2a2a"/>
<rect x="759.5" y="499.3" width="8.8" height="5.1" fill="#454545"/>
<rect x="768.0" y="499.3" width="8.8" height="5.1" fill="#393939"/>
<rect x="131.0" y="504.1" width="8.8" height="5.1" fill="#1e1e1e"/>
<rect x="139.5" y="504.1" width="8.8" height="5.1" fill="#303030"/>
<rect x="148.0" y="504.1" width="8.8" height="5.1" fill="#3f3f3f"/>
<rect x="156.5" y="504.1" width="8.8" height="5.1" fill="#363636"/>
<rect x="164.9" y="504.1" width="8.8" height="5.1" fill="#212121"/>
<rect x="173.4" y="504.1" width="8.8" height="5.1" fill="#1e1e1e"/>
<rect x="589.6" y="504.1" width="42.8" height="5.1" fill="#1e1e1e"/>
<rect x="657.6" y="504.1" width="17.3" height="5.1" fill="#1e1e1e"/>
<rect x="674.6" y="504.1" width="8.8" height="5.1" fill="#242424"/>
<rect x="683.1" y="504.1" width="8.8" height="5.1" fill="#272727"/>
<rect x="691.6" y="504.1" width="25.8" height="5.1" fill="#2a2a2a"/>
<rect x="717.0" y="504.1" width="8.8" height="5.1" fill="#272727"/>
<rect x="725.5" y="504.1" width="8.8" height="5.1" fill="#212121"/>
<rect x="734.0" y="504.1" width="17.3" height="5.1" fill="#1e1e1e"/>
<rect x="751.0" y="504.1" width="8.8" height="5.1" fill="#303030"/>
<rect x="759.5" y="504.1" width="8.8" height="5.1" fill="#515151"/>
<rect x="768.0" y="504.1" width="8.8" height="5.1" fill="#454545"/>
<rect x="131.0" y="508.9" width="8.8" height="5.1" fill="#1e1e1e"/>
<rect x="139.5" y="508.9" width="8.8" height="5.1" fill="#333333"/>
<rect x="148.0" y="508.9" width="8.8" height="5.1" fill="#3f3f3f"/>
<rect x="156.5" y="508.9" width="8.8" height="5.1" fill="#363636"/>
<rect x="164.9" y="508.9" width="17.3" height="5.1" fill="#1e1e1e"/>
<rect x="657.6" y="508.9" width="8.8" height="5.1" fill="#1e1e1e"/>
<rect x="666.1" y="508.9" width="8.8" height="5.1" fill="#212121"/>
<rect x="674.6" y="508.9" width="8.8" height="5.1" fill="#272727"/>
<rect x="683.1" y="508.9" width="8.8" height="5.1" fill="#2d2d2d"/>
<rect x="691.6" y="508.9" width="17.3" height="5.1" fill="#303030"/>
<rect x="708.5" y="508.9" width="8.8" height="5.1" fill="#2d2d2d"/>
<rect x="717.0" y="508.9" width="8.8" height="5.1" fill="#272727"/>
<rect x="725.5" y="508.9" width="8.8" height="5.1" fill="#212121"/>
<rect x="734.0" y="508.9" width="8.8" height="5.1" fill="#1e1e1e"/>
<rect x="751.0" y="508.9" width="8.8" height="5.1" fill="#2d2d2d"/>
<rect x="759.5" y="508.9" width="8.8" height="5.1" fill="#4e4e4e"/>
<rect x="768.0" y="508.9" width="8.8" height="5.1" fill="#424242"/>
<rect x="139.5" y="513.7" width="8.8" height="5.1" fill="#1e1e1e"/>
<rect x="148.0" y="513.7" width="8.8" height="5.1" fill="#272727"/>
<rect x="156.5" y="513.7" width="8.8" height="5.1" fill="#212121"/>
<rect x="419.8" y="513.7" width="8.8" height="5.1" fill="#1e1e1e"/>
<rect x="428.3" y="513.7" width="8.8" height="5.1" fill="#212121"/>
<rect x="436.7" y="513.7" width="8.8" height="5.1" fill="#242424"/>
<rect x="445.2" y="513.7" width="17.3" height="5.1" fill="#272727"/>
<rect x="462.2" y="513.7" width="8.8" height="5.1" fill="#242424"/>
<rect x="470.7" y="513.7" width="8.8" height="5.1" fill="#212121"/>
<rect x="479.2" y="513.7" width="17.3" height="5.1" fill="#1e1e1e"/>
<rect x="657.6" y="513.7" width="17.3" height="5.1" fill="#1e1e1e"/>
<rect x="674.6" y="513.7" width="8.8" height="5.1" fill="#242424"/>
<rect x="683.1" y="513.7" width="8.8" height="5.1" fill="#2a2a2a"/>
<rect x="691.6" y="513.7" width="17.3" height="5.1" fill="#2d2d2d"/>
<rect x="708.5" y="513.7" width="8.8" height="5.1" fill="#2a2a2a"/>
<rect x="717.0" y="513.7" width="8.8" height="5.1" fill="#242424"/>
<rect x="725.5" y="513.7" width="17.3" height="5.1" fill="#1e1e1e"/>
<rect x="751.0" y="513.7" width="8.8" height="5.1" fill="#424242"/>
<rect x="759.5" y="513.7" width="8.8" height="5.1" fill="#787878"/>
<rect x="768.0" y="513.7" width="8.8" height="5.1" fill="#333333"/>
<rect x="394.3" y="518.5" width="8.8" height="5.1" fill="#1e1e1e"/>
<rect x="411.3" y="518.5" width="8.8" height="5.1" fill="#1e1e1e"/>
<rect x="419.8" y="518.5" width="8.8" height="5.1" fill="#272727"/>
<rect x="428.3" y="518.5" width="8.8" height="5.1" fill="#2d2d2d"/>
<rect x="436.7" y="518.5" width="8.8" height="5.1" fill="#333333"/>
<rect x="445.2" y="518.5" width="25.8" height="5.1" fill="#363636"/>
<rect x="470.7" y="518.5" width="8.8" height="5.1" fill="#303030"/>
<rect x="479.2" y="518.5" width="8.8" height="5.1" fill="#2a2a2a"/>
<rect x="487.7" y="518.5" width="8.8" height="5.1" fill="#212121"/>
<rect x="496.2" y="518.5" width="8.8" height="5.1" fill="#1e1e1e"/>
<rect x="674.6" y="518.5" width="17.3" height="5.1" fill="#1e1e1e"/>
<rect x="691.6" y="518.5" width="17.3" height="5.1" fill="#212121"/>
<rect x="708.5" y="518.5" width="17.3" height="5.1" fill="#1e1e1e"/>
<rect x="751.0" y="518.5" width="8.8" height="5.1" fill="#4b4b4b"/>
<rect x="759.5" y="518.5" width="8.8" height="5.1" fill="#8a8a8a"/>
<rect x="768.0" y="518.5" width="8.8" height="5.1" fill="#393939"/>
<rect x="88.5" y="523.4" width="8.8" height="5.1" fill="#1e1e1e"/>
<rect x="97.0" y="523.4" width="8.8" height="5.1" fill="#212121"/>
<rect x="275.4" y="523.4" width="8.8" height="5.1" fill="#1e1e1e"/>
<rect x="283.9" y="523.4" width="8.8" height="5.1" fill="#212121"/>
<rect x="292.4" y="523.4" width="17.3" height="5.1" fill="#242424"/>
<rect x="309.3" y="523.4" width="17.3" height="5.1" fill="#1e1e1e"/>
<rect x="394.3" y="523.4" width="8.8" height="5.1" fill="#212121"/>
<rect x="402.8" y="523.4" width="17.3" height="5.1" fill="#1e1e1e"/>
<rect x="419.8" y="523.4" width="8.8" height="5.1" fill="#212121"/>
<rect x="428.3" y="523.4" width="8.8" height="5.1" fill="#272727"/>
<rect x="436.7" y="523.4" width="8.8" height="5.1" fill="#2d2d2d"/>
<rect x="445.2" y="523.4" width="17.3" height="5.1" fill="#303030"/>
<rect x="462.2" y="523.4" width="8.8" height="5.1" fill="#2d2d2d"/>
<rect x="470.7" y="523.4" width="8.8" height="5.1" fill="#2a2a2a"/>
<rect x="479.2" y="523.4" width="8.8" height="5.1" fill="#242424"/>
<rect x="487.7" y="523.4" width="25.8" height="5.1" fill="#1e1e1e"/>
<rect x="513.2" y="523.4" width="8.8" height="5.1" fill="#242424"/>
<rect x="521.7" y="523.4" width="8.8" height="5.1" fill="#272727"/>
<rect x="530.2" y="523.4" width="8.8" height="5.1" fill="#242424"/>
<rect x="538.7" y="523.4" width="8.8" height="5.1" fill="#1e1e1e"/>
<rect x="555.7" y="523.4" width="8.8" height="5.1" fill="#1e1e1e"/>
<rect x="751.0" y="523.4" width="8.8" height="5.1" fill="#424242"/>
<rect x="759.5" y="523.4" width="8.8" height="5.1" fill="#787878"/>
<rect x="768.0" y="523.4" width="8.8" height="5.1" fill="#333333"/>
<rect x="88.5" y="528.2" width="8.8" height="5.1" fill="#1e1e1e"/>
<rect x="97.0" y="528.2" width="8.8" height="5.1" fill="#212121"/>
<rect x="275.4" y="528.2" width="17.3" height="5.1" fill="#1e1e1e"/>
<rect x="292.4" y="528.2" width="17.3" height="5.1" fill="#212121"/>
<rect x="309.3" y="528.2" width="17.3" height="5.1" fill="#1e1e1e"/>
<rect x="394.3" y="528.2" width="8.8" height="5.1" fill="#1e1e1e"/>
<rect x="436.7" y="528.2" width="34.3" height="5.1" fill="#1e1e1e"/>
<rect x="513.2" y="528.2" width="25.8" height="5.1" fill="#1e1e1e"/>
<rect x="555.7" y="528.2" width="8.8" height="5.1" fill="#1e1e1e"/>
<rect x="751.0" y="528.2" width="8.8" height="5.1" fill="#2a2a2a"/>
<rect x="759.5" y="528.2" width="8.8" height="5.1" fill="#4e4e4e"/>
<rect x="768.0" y="528.2" width="8.8" height="5.1" fill="#212121"/>
</g>
<polygon points="425.3,445.5 427.0,450.7 432.1,450.8 428.0,454.2 429.5,459.5 425.3,456.3 421.1,459.5 422.6,454.2 418.5,450.8 423.6,450.7" fill="none" stroke="#1e90ff" stroke-width="1"/>
<polygon points="591.1,437.6 593.0,442.3 598.6,442.4 594.1,445.4 595.7,450.1 591.1,447.3 586.5,450.1 588.1,445.4 583.6,442.4 589.2,442.3" fill="#1e90ff" fill-opacity="0.65" stroke="#1e90ff" stroke-width="1.2"/>
<g shape-rendering="crispEdges">
<line x1="86.5" x2="776.5" y1="436.5" y2="436.5" stroke="#000" stroke-width="1"/>
<line x1="88.5" x2="776.5" y1="422.5" y2="422.5" stroke="#f00" stroke-width="1"/>
<line x1="88.5" x2="776.5" y1="451.5" y2="451.5" stroke="#f00" stroke-width="1"/>
<rect x="343" y="428" width="8" height="8" fill="#000"/>
<rect x="88.5" y="335.5" width="688.0" height="197.5" fill="none" stroke="#cd1a24" stroke-width="3"/>
<path d="M88.5 335.5v9.5M88.5 533.0v-9.5M97.0 335.5v5M97.0 533.0v-5M105.5 335.5v5M105.5 533.0v-5M114.0 335.5v5M114.0 533.0v-5M122.5 335.5v5M122.5 533.0v-5M131.0 335.5v5M131.0 533.0v-5M139.5 335.5v5M139.5 533.0v-5M148.0 335.5v5M148.0 533.0v-5M156.5 335.5v5M156.5 533.0v-5M164.9 335.5v5M164.9 533.0v-5M173.4 335.5v9.5M173.4 533.0v-9.5M181.9 335.5v5M181.9 533.0v-5M190.4 335.5v5M190.4 533.0v-5M198.9 335.5v5M198.9 533.0v-5M207.4 335.5v5M207.4 533.0v-5M215.9 335.5v5M215.9 533.0v-5M224.4 335.5v5M224.4 533.0v-5M232.9 335.5v5M232.9 533.0v-5M241.4 335.5v5M241.4 533.0v-5M249.9 335.5v5M249.9 533.0v-5M258.4 335.5v9.5M258.4 533.0v-9.5M266.9 335.5v5M266.9 533.0v-5M275.4 335.5v5M275.4 533.0v-5M283.9 335.5v5M283.9 533.0v-5M292.4 335.5v5M292.4 533.0v-5M300.8 335.5v5M300.8 533.0v-5M309.3 335.5v5M309.3 533.0v-5M317.8 335.5v5M317.8 533.0v-5M326.3 335.5v5M326.3 533.0v-5M334.8 335.5v5M334.8 533.0v-5M343.3 335.5v9.5M343.3 533.0v-9.5M351.8 335.5v5M351.8 533.0v-5M360.3 335.5v5M360.3 533.0v-5M368.8 335.5v5M368.8 533.0v-5M377.3 335.5v5M377.3 533.0v-5M385.8 335.5v5M385.8 533.0v-5M394.3 335.5v5M394.3 533.0v-5M402.8 335.5v5M402.8 533.0v-5M411.3 335.5v5M411.3 533.0v-5M419.8 335.5v5M419.8 533.0v-5M428.3 335.5v9.5M428.3 533.0v-9.5M436.7 335.5v5M436.7 533.0v-5M445.2 335.5v5M445.2 533.0v-5M453.7 335.5v5M453.7 533.0v-5M462.2 335.5v5M462.2 533.0v-5M470.7 335.5v5M470.7 533.0v-5M479.2 335.5v5M479.2 533.0v-5M487.7 335.5v5M487.7 533.0v-5M496.2 335.5v5M496.2 533.0v-5M504.7 335.5v5M504.7 533.0v-5M513.2 335.5v9.5M513.2 533.0v-9.5M521.7 335.5v5M521.7 533.0v-5M530.2 335.5v5M530.2 533.0v-5M538.7 335.5v5M538.7 533.0v-5M547.2 335.5v5M547.2 533.0v-5M555.7 335.5v5M555.7 533.0v-5M564.2 335.5v5M564.2 533.0v-5M572.6 335.5v5M572.6 533.0v-5M581.1 335.5v5M581.1 533.0v-5M589.6 335.5v5M589.6 533.0v-5M598.1 335.5v9.5M598.1 533.0v-9.5M606.6 335.5v5M606.6 533.0v-5M615.1 335.5v5M615.1 533.0v-5M623.6 335.5v5M623.6 533.0v-5M632.1 335.5v5M632.1 533.0v-5M640.6 335.5v5M640.6 533.0v-5M649.1 335.5v5M649.1 533.0v-5M657.6 335.5v5M657.6 533.0v-5M666.1 335.5v5M666.1 533.0v-5M674.6 335.5v5M674.6 533.0v-5M683.1 335.5v9.5M683.1 533.0v-9.5M691.6 335.5v5M691.6 533.0v-5M700.1 335.5v5M700.1 533.0v-5M708.5 335.5v5M708.5 533.0v-5M717.0 335.5v5M717.0 533.0v-5M725.5 335.5v5M725.5 533.0v-5M734.0 335.5v5M734.0 533.0v-5M742.5 335.5v5M742.5 533.0v-5M751.0 335.5v5M751.0 533.0v-5M759.5 335.5v5M759.5 533.0v-5M768.0 335.5v9.5M768.0 533.0v-9.5M776.5 335.5v5M776.5 533.0v-5M88.5 340.0h6.5M88.5 388.3h6.5M88.5 436.6h6.5M88.5 484.9h6.5M88.5 533.2h6.5" fill="none" stroke="#cd1a24" stroke-width="3"/>
</g>
<path d="M69.23 314.27L70.49 313.68L72.38 311.91L72.38 324.30M79.31 323.59L83.09 323.59L81.20 325.83ZM80.57 324.12L81.83 324.12M92.54 311.91L86.24 320.17L95.69 320.17M92.54 311.91L92.54 324.30M101.99 311.91L100.10 312.50L99.47 313.68L99.47 314.86L100.10 316.04L101.36 316.63L103.88 317.22L105.77 317.81L107.03 318.99L107.66 320.17L107.66 321.94L107.03 323.12L106.40 323.71L104.51 324.30L101.99 324.30L100.10 323.71L99.47 323.12L98.84 321.94L98.84 320.17L99.47 318.99L100.73 317.81L102.62 317.22L105.14 316.63L106.40 316.04L107.03 314.86L107.03 313.68L106.40 312.50L104.51 311.91ZM152.91 314.86L152.91 314.27L153.54 313.09L154.17 312.50L155.43 311.91L157.95 311.91L159.21 312.50L159.84 313.09L160.47 314.27L160.47 315.45L159.84 316.63L158.58 318.40L152.28 324.30L161.10 324.30M164.25 323.59L168.03 323.59L166.14 325.83ZM165.51 324.12L166.77 324.12M177.48 311.91L171.18 320.17L180.63 320.17M177.48 311.91L177.48 324.30M191.34 311.91L185.04 311.91L184.41 317.22L185.04 316.63L186.93 316.04L188.82 316.04L190.71 316.63L191.97 317.81L192.60 319.58L192.60 320.76L191.97 322.53L190.71 323.71L188.82 324.30L186.93 324.30L185.04 323.71L184.41 323.12L183.78 321.94M238.48 311.91L245.41 311.91L241.63 316.63L243.52 316.63L244.78 317.22L245.41 317.81L246.04 319.58L246.04 320.76L245.41 322.53L244.15 323.71L242.26 324.30L240.37 324.30L238.48 323.71L237.85 323.12L237.22 321.94M249.19 323.59L252.97 323.59L251.08 325.83ZM250.45 324.12L251.71 324.12M256.75 314.86L256.75 314.27L257.38 313.09L258.01 312.50L259.27 311.91L261.79 311.91L263.05 312.50L263.68 313.09L264.31 314.27L264.31 315.45L263.68 316.63L262.42 318.40L256.12 324.30L264.94 324.30M271.87 311.91L269.98 312.50L269.35 313.68L269.35 314.86L269.98 316.04L271.24 316.63L273.76 317.22L275.65 317.81L276.91 318.99L277.54 320.17L277.54 321.94L276.91 323.12L276.28 323.71L274.39 324.30L271.87 324.30L269.98 323.71L269.35 323.12L268.72 321.94L268.72 320.17L269.35 318.99L270.61 317.81L272.50 317.22L275.02 316.63L276.28 316.04L276.91 314.86L276.91 313.68L276.28 312.50L274.39 311.91ZM323.41 311.91L330.34 311.91L326.56 316.63L328.45 316.63L329.71 317.22L330.34 317.81L330.97 319.58L330.97 320.76L330.34 322.53L329.08 323.71L327.19 324.30L325.30 324.30L323.41 323.71L322.78 323.12L322.15 321.94M334.12 323.59L337.90 323.59L336.01 325.83ZM335.38 324.12L336.64 324.12M344.20 311.91L342.31 312.50L341.68 313.68L341.68 314.86L342.31 316.04L343.57 316.63L346.09 317.22L347.98 317.81L349.24 318.99L349.87 320.17L349.87 321.94L349.24 323.12L348.61 323.71L346.72 324.30L344.20 324.30L342.31 323.71L341.68 323.12L341.05 321.94L341.05 320.17L341.68 318.99L342.94 317.81L344.83 317.22L347.35 316.63L348.61 316.04L349.24 314.86L349.24 313.68L348.61 312.50L346.72 311.91ZM354.91 311.91L361.84 311.91L358.06 316.63L359.95 316.63L361.21 317.22L361.84 317.81L362.47 319.58L362.47 320.76L361.84 322.53L360.58 323.71L358.69 324.30L356.80 324.30L354.91 323.71L354.28 323.12L353.65 321.94M413.39 311.91L407.09 320.17L416.54 320.17M413.39 311.91L413.39 324.30M419.06 323.59L422.84 323.59L420.95 325.83ZM420.32 324.12L421.58 324.12M426.62 314.86L426.62 314.27L427.25 313.09L427.88 312.50L429.14 311.91L431.66 311.91L432.92 312.50L433.55 313.09L434.18 314.27L434.18 315.45L433.55 316.63L432.29 318.40L425.99 324.30L434.81 324.30M447.41 311.91L441.11 324.30M438.59 311.91L447.41 311.91M498.33 311.91L492.03 320.17L501.48 320.17M498.33 311.91L498.33 324.30M504.00 323.59L507.78 323.59L505.89 325.83ZM505.26 324.12L506.52 324.12M519.12 313.68L518.49 312.50L516.60 311.91L515.34 311.91L513.45 312.50L512.19 314.27L511.56 317.22L511.56 320.17L512.19 322.53L513.45 323.71L515.34 324.30L515.97 324.30L517.86 323.71L519.12 322.53L519.75 320.76L519.75 320.17L519.12 318.40L517.86 317.22L515.97 316.63L515.34 316.63L513.45 317.22L512.19 318.40L511.56 320.17M531.72 313.68L531.09 312.50L529.20 311.91L527.94 311.91L526.05 312.50L524.79 314.27L524.16 317.22L524.16 320.17L524.79 322.53L526.05 323.71L527.94 324.30L528.57 324.30L530.46 323.71L531.72 322.53L532.35 320.76L532.35 320.17L531.72 318.40L530.46 317.22L528.57 316.63L527.94 316.63L526.05 317.22L524.79 318.40L524.16 320.17M584.53 311.91L578.23 311.91L577.60 317.22L578.23 316.63L580.12 316.04L582.01 316.04L583.90 316.63L585.16 317.81L585.79 319.58L585.79 320.76L585.16 322.53L583.90 323.71L582.01 324.30L580.12 324.30L578.23 323.71L577.60 323.12L576.97 321.94M588.94 323.59L592.72 323.59L590.83 325.83ZM590.20 324.12L591.46 324.12M599.65 311.91L597.76 312.50L596.50 314.27L595.87 317.22L595.87 318.99L596.50 321.94L597.76 323.71L599.65 324.30L600.91 324.30L602.80 323.71L604.06 321.94L604.69 318.99L604.69 317.22L604.06 314.27L602.80 312.50L600.91 311.91ZM612.25 311.91L610.36 312.50L609.10 314.27L608.47 317.22L608.47 318.99L609.10 321.94L610.36 323.71L612.25 324.30L613.51 324.30L615.40 323.71L616.66 321.94L617.29 318.99L617.29 317.22L616.66 314.27L615.40 312.50L613.51 311.91ZM669.47 311.91L663.17 311.91L662.54 317.22L663.17 316.63L665.06 316.04L666.95 316.04L668.84 316.63L670.10 317.81L670.73 319.58L670.73 320.76L670.10 322.53L668.84 323.71L666.95 324.30L665.06 324.30L663.17 323.71L662.54 323.12L661.91 321.94M673.88 323.59L677.66 323.59L675.77 325.83ZM675.14 324.12L676.40 324.12M682.07 311.91L689.00 311.91L685.22 316.63L687.11 316.63L688.37 317.22L689.00 317.81L689.63 319.58L689.63 320.76L689.00 322.53L687.74 323.71L685.85 324.30L683.96 324.30L682.07 323.71L681.44 323.12L680.81 321.94M695.30 314.27L696.56 313.68L698.45 311.91L698.45 324.30M754.41 311.91L748.11 311.91L747.48 317.22L748.11 316.63L750.00 316.04L751.89 316.04L753.78 316.63L755.04 317.81L755.67 319.58L755.67 320.76L755.04 322.53L753.78 323.71L751.89 324.30L750.00 324.30L748.11 323.71L747.48 323.12L746.85 321.94M758.82 323.59L762.60 323.59L760.71 325.83ZM760.08 324.12L761.34 324.12M773.31 311.91L767.01 311.91L766.38 317.22L767.01 316.63L768.90 316.04L770.79 316.04L772.68 316.63L773.94 317.81L774.57 319.58L774.57 320.76L773.94 322.53L772.68 323.71L770.79 324.30L768.90 324.30L767.01 323.71L766.38 323.12L765.75 321.94M785.91 311.91L779.61 311.91L778.98 317.22L779.61 316.63L781.50 316.04L783.39 316.04L785.28 316.63L786.54 317.81L787.17 319.58L787.17 320.76L786.54 322.53L785.28 323.71L783.39 324.30L781.50 324.30L779.61 323.71L778.98 323.12L778.35 321.94M86.87 550.21L84.98 550.80L83.72 552.57L83.09 555.52L83.09 557.29L83.72 560.24L84.98 562.01L86.87 562.60L88.13 562.60L90.02 562.01L91.28 560.24L91.91 557.29L91.91 555.52L91.28 552.57L90.02 550.80L88.13 550.21ZM163.62 552.57L164.88 551.98L166.77 550.21L166.77 562.60M178.11 550.21L176.22 550.80L174.96 552.57L174.33 555.52L174.33 557.29L174.96 560.24L176.22 562.01L178.11 562.60L179.37 562.60L181.26 562.01L182.52 560.24L183.15 557.29L183.15 555.52L182.52 552.57L181.26 550.80L179.37 550.21ZM247.30 553.16L247.30 552.57L247.93 551.39L248.56 550.80L249.82 550.21L252.34 550.21L253.60 550.80L254.23 551.39L254.86 552.57L254.86 553.75L254.23 554.93L252.97 556.70L246.67 562.60L255.49 562.60M263.05 550.21L261.16 550.80L259.90 552.57L259.27 555.52L259.27 557.29L259.90 560.24L261.16 562.01L263.05 562.60L264.31 562.60L266.20 562.01L267.46 560.24L268.09 557.29L268.09 555.52L267.46 552.57L266.20 550.80L264.31 550.21ZM332.86 550.21L339.79 550.21L336.01 554.93L337.90 554.93L339.16 555.52L339.79 556.11L340.42 557.88L340.42 559.06L339.79 560.83L338.53 562.01L336.64 562.60L334.75 562.60L332.86 562.01L332.23 561.42L331.60 560.24M347.98 550.21L346.09 550.80L344.83 552.57L344.20 555.52L344.20 557.29L344.83 560.24L346.09 562.01L347.98 562.60L349.24 562.60L351.13 562.01L352.39 560.24L353.02 557.29L353.02 555.52L352.39 552.57L351.13 550.80L349.24 550.21ZM422.84 550.21L416.54 558.47L425.99 558.47M422.84 550.21L422.84 562.60M432.92 550.21L431.03 550.80L429.77 552.57L429.14 555.52L429.14 557.29L429.77 560.24L431.03 562.01L432.92 562.60L434.18 562.60L436.07 562.01L437.33 560.24L437.96 557.29L437.96 555.52L437.33 552.57L436.07 550.80L434.18 550.21ZM509.04 550.21L502.74 550.21L502.11 555.52L502.74 554.93L504.63 554.34L506.52 554.34L508.41 554.93L509.67 556.11L510.30 557.88L510.30 559.06L509.67 560.83L508.41 562.01L506.52 562.60L504.63 562.60L502.74 562.01L502.11 561.42L501.48 560.24M517.86 550.21L515.97 550.80L514.71 552.57L514.08 555.52L514.08 557.29L514.71 560.24L515.97 562.01L517.86 562.60L519.12 562.60L521.01 562.01L522.27 560.24L522.90 557.29L522.90 555.52L522.27 552.57L521.01 550.80L519.12 550.21ZM594.61 551.98L593.98 550.80L592.09 550.21L590.83 550.21L588.94 550.80L587.68 552.57L587.05 555.52L587.05 558.47L587.68 560.83L588.94 562.01L590.83 562.60L591.46 562.60L593.35 562.01L594.61 560.83L595.24 559.06L595.24 558.47L594.61 556.70L593.35 555.52L591.46 554.93L590.83 554.93L588.94 555.52L587.68 556.70L587.05 558.47M602.80 550.21L600.91 550.80L599.65 552.57L599.02 555.52L599.02 557.29L599.65 560.24L600.91 562.01L602.80 562.60L604.06 562.60L605.95 562.01L607.21 560.24L607.84 557.29L607.84 555.52L607.21 552.57L605.95 550.80L604.06 550.21ZM680.18 550.21L673.88 562.60M671.36 550.21L680.18 550.21M687.74 550.21L685.85 550.80L684.59 552.57L683.96 555.52L683.96 557.29L684.59 560.24L685.85 562.01L687.74 562.60L689.00 562.60L690.89 562.01L692.15 560.24L692.78 557.29L692.78 555.52L692.15 552.57L690.89 550.80L689.00 550.21ZM759.45 550.21L757.56 550.80L756.93 551.98L756.93 553.16L757.56 554.34L758.82 554.93L761.34 555.52L763.23 556.11L764.49 557.29L765.12 558.47L765.12 560.24L764.49 561.42L763.86 562.01L761.97 562.60L759.45 562.60L757.56 562.01L756.93 561.42L756.30 560.24L756.30 558.47L756.93 557.29L758.19 556.11L760.08 555.52L762.60 554.93L763.86 554.34L764.49 553.16L764.49 551.98L763.86 550.80L761.97 550.21ZM772.68 550.21L770.79 550.80L769.53 552.57L768.90 555.52L768.90 557.29L769.53 560.24L770.79 562.01L772.68 562.60L773.94 562.60L775.83 562.01L777.09 560.24L777.72 557.29L777.72 555.52L777.09 552.57L775.83 550.80L773.94 550.21ZM58.32 339.56L58.32 338.97L58.95 337.79L59.58 337.20L60.84 336.61L63.36 336.61L64.62 337.20L65.25 337.79L65.88 338.97L65.88 340.15L65.25 341.33L63.99 343.10L57.69 349.00L66.51 349.00M74.07 336.61L72.18 337.20L70.92 338.97L70.29 341.92L70.29 343.69L70.92 346.64L72.18 348.41L74.07 349.00L75.33 349.00L77.22 348.41L78.48 346.64L79.11 343.69L79.11 341.92L78.48 338.97L77.22 337.20L75.33 336.61ZM59.58 386.97L60.84 386.38L62.73 384.61L62.73 397.00M74.07 384.61L72.18 385.20L70.92 386.97L70.29 389.92L70.29 391.69L70.92 394.64L72.18 396.41L74.07 397.00L75.33 397.00L77.22 396.41L78.48 394.64L79.11 391.69L79.11 389.92L78.48 386.97L77.22 385.20L75.33 384.61ZM74.07 432.61L72.18 433.20L70.92 434.97L70.29 437.92L70.29 439.69L70.92 442.64L72.18 444.41L74.07 445.00L75.33 445.00L77.22 444.41L78.48 442.64L79.11 439.69L79.11 437.92L78.48 434.97L77.22 433.20L75.33 432.61ZM41.94 487.69L53.28 487.69M59.58 482.97L60.84 482.38L62.73 480.61L62.73 493.00M74.07 480.61L72.18 481.20L70.92 482.97L70.29 485.92L70.29 487.69L70.92 490.64L72.18 492.41L74.07 493.00L75.33 493.00L77.22 492.41L78.48 490.64L79.11 487.69L79.11 485.92L78.48 482.97L77.22 481.20L75.33 480.61ZM41.94 527.69L53.28 527.69M58.32 523.56L58.32 522.97L58.95 521.79L59.58 521.20L60.84 520.61L63.36 520.61L64.62 521.20L65.25 521.79L65.88 522.97L65.88 524.15L65.25 525.33L63.99 527.10L57.69 533.00L66.51 533.00M74.07 520.61L72.18 521.20L70.92 522.97L70.29 525.92L70.29 527.69L70.92 530.64L72.18 532.41L74.07 533.00L75.33 533.00L77.22 532.41L78.48 530.64L79.11 527.69L79.11 525.92L78.48 522.97L77.22 521.20L75.33 520.61ZM410.84 575.91L410.84 588.30M410.84 575.91L416.51 575.91L418.40 576.50L419.03 577.09L419.66 578.27L419.66 580.04L419.03 581.22L418.40 581.81L416.51 582.40L410.84 582.40M423.44 575.32L424.07 575.91L424.70 575.32L424.07 574.73ZM424.07 580.04L424.07 588.30M428.48 580.04L435.41 588.30M435.41 580.04L428.48 588.30M439.19 583.58L446.75 583.58L446.75 582.40L446.12 581.22L445.49 580.63L444.23 580.04L442.34 580.04L441.08 580.63L439.82 581.81L439.19 583.58L439.19 584.76L439.82 586.53L441.08 587.71L442.34 588.30L444.23 588.30L445.49 587.71L446.75 586.53M451.16 575.91L451.16 588.30M10.88 517.89L9.70 519.15L9.11 521.04L9.11 523.56L9.70 525.45L10.88 526.71L12.06 526.71L13.24 526.08L13.83 525.45L14.42 524.19L15.60 520.41L16.19 519.15L16.78 518.52L17.96 517.89L19.73 517.89L20.91 519.15L21.50 521.04L21.50 523.56L20.91 525.45L19.73 526.71M13.24 513.48L25.63 513.48M15.01 513.48L13.83 512.22L13.24 510.96L13.24 509.07L13.83 507.81L15.01 506.55L16.78 505.92L17.96 505.92L19.73 506.55L20.91 507.81L21.50 509.07L21.50 510.96L20.91 512.22L19.73 513.48M13.24 494.58L21.50 494.58M15.01 494.58L13.83 495.84L13.24 497.10L13.24 498.99L13.83 500.25L15.01 501.51L16.78 502.14L17.96 502.14L19.73 501.51L20.91 500.25L21.50 498.99L21.50 497.10L20.91 495.84L19.73 494.58M15.01 482.61L13.83 483.87L13.24 485.13L13.24 487.02L13.83 488.28L15.01 489.54L16.78 490.17L17.96 490.17L19.73 489.54L20.91 488.28L21.50 487.02L21.50 485.13L20.91 483.87L19.73 482.61M16.78 478.83L16.78 471.27L15.60 471.27L14.42 471.90L13.83 472.53L13.24 473.79L13.24 475.68L13.83 476.94L15.01 478.20L16.78 478.83L17.96 478.83L19.73 478.20L20.91 476.94L21.50 475.68L21.50 473.79L20.91 472.53L19.73 471.27M10.88 448.59L9.70 449.85L9.11 451.74L9.11 454.26L9.70 456.15L10.88 457.41L12.06 457.41L13.24 456.78L13.83 456.15L14.42 454.89L15.60 451.11L16.19 449.85L16.78 449.22L17.96 448.59L19.73 448.59L20.91 449.85L21.50 451.74L21.50 454.26L20.91 456.15L19.73 457.41M9.11 444.18L21.50 444.18M15.60 444.18L13.83 442.29L13.24 441.03L13.24 439.14L13.83 437.88L15.60 437.25L21.50 437.25M8.52 432.84L9.11 432.21L8.52 431.58L7.93 432.21ZM13.24 432.21L21.50 432.21M9.11 423.39L9.11 424.65L9.70 425.91L11.47 426.54L21.50 426.54M13.24 428.43L13.24 424.02M9.11 418.98L19.14 418.98L20.91 418.35L21.50 417.09L21.50 415.83M13.24 420.87L13.24 416.46M6.75 401.97L25.63 401.97M6.75 401.34L25.63 401.34M6.75 401.97L6.75 397.56M25.63 401.97L25.63 397.56M13.24 393.15L25.63 393.15M15.01 393.15L13.83 391.89L13.24 390.63L13.24 388.74L13.83 387.48L15.01 386.22L16.78 385.59L17.96 385.59L19.73 386.22L20.91 387.48L21.50 388.74L21.50 390.63L20.91 391.89L19.73 393.15M8.52 381.81L9.11 381.18L8.52 380.55L7.93 381.18ZM13.24 381.18L21.50 381.18M13.24 376.77L21.50 369.84M13.24 369.84L21.50 376.77M16.78 366.06L16.78 358.50L15.60 358.50L14.42 359.13L13.83 359.76L13.24 361.02L13.24 362.91L13.83 364.17L15.01 365.43L16.78 366.06L17.96 366.06L19.73 365.43L20.91 364.17L21.50 362.91L21.50 361.02L20.91 359.76L19.73 358.50M9.11 354.09L21.50 354.09M6.75 345.90L25.63 345.90M6.75 345.27L25.63 345.27M6.75 349.68L6.75 345.27M25.63 349.68L25.63 345.27" fill="none" stroke="#cd1a24" stroke-width="2" stroke-linecap="round" stroke-linejoin="round"/>
<path d="M789 599L799 589M793 599L799 593M797 599L799 597" stroke="#777" stroke-width="1" fill="none" shape-rendering="auto"/>
</svg></body></html>
